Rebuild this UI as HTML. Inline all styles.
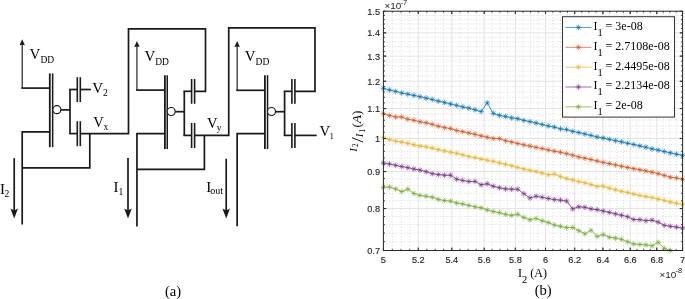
<!DOCTYPE html>
<html><head><meta charset="utf-8"><style>
html,body{margin:0;padding:0;background:#fff;}
body{width:685px;height:299px;overflow:hidden;}
svg{display:block;will-change:transform;}
</style></head><body>
<svg width="685" height="299" viewBox="0 0 685 299">
<line x1="22.20" y1="88.10" x2="22.20" y2="43.20" stroke="#1a1a1a" stroke-width="1.15"/>
<path d="M22.20,39.20 L19.50,45.20 L22.20,44.70 L24.90,45.20 Z" fill="#1a1a1a"/>
<line x1="21.35" y1="88.10" x2="49.80" y2="88.10" stroke="#1a1a1a" stroke-width="1.7"/>
<line x1="49.80" y1="73.40" x2="49.80" y2="147.20" stroke="#1a1a1a" stroke-width="1.8"/>
<line x1="52.65" y1="73.40" x2="52.65" y2="147.20" stroke="#1a1a1a" stroke-width="1.5"/>
<circle cx="56.90" cy="109.70" r="4.0" fill="#fff" stroke="#1a1a1a" stroke-width="1.2"/>
<line x1="60.90" y1="109.90" x2="70.00" y2="109.90" stroke="#1a1a1a" stroke-width="1.7"/>
<line x1="70.00" y1="89.50" x2="70.00" y2="134.00" stroke="#1a1a1a" stroke-width="1.7"/>
<line x1="69.15" y1="89.50" x2="77.30" y2="89.50" stroke="#1a1a1a" stroke-width="1.7"/>
<line x1="77.30" y1="77.20" x2="77.30" y2="102.00" stroke="#1a1a1a" stroke-width="1.6"/>
<line x1="80.30" y1="77.20" x2="80.30" y2="102.00" stroke="#1a1a1a" stroke-width="1.6"/>
<line x1="69.15" y1="133.60" x2="77.30" y2="133.60" stroke="#1a1a1a" stroke-width="1.7"/>
<line x1="77.30" y1="121.20" x2="77.30" y2="146.20" stroke="#1a1a1a" stroke-width="1.6"/>
<line x1="80.30" y1="121.20" x2="80.30" y2="146.20" stroke="#1a1a1a" stroke-width="1.6"/>
<polyline points="49.80,131.80 22.20,131.80 22.20,224.40" fill="none" stroke="#1a1a1a" stroke-width="1.7" stroke-linejoin="miter"/>
<line x1="14.20" y1="158.20" x2="14.20" y2="212.00" stroke="#1a1a1a" stroke-width="1.7"/>
<path d="M14.20,218.40 L10.45,208.60 L14.20,210.40 L17.95,208.60 Z" fill="#1a1a1a"/>
<line x1="136.95" y1="90.10" x2="136.95" y2="45.00" stroke="#1a1a1a" stroke-width="1.15"/>
<path d="M136.95,41.00 L134.25,47.00 L136.95,46.50 L139.65,47.00 Z" fill="#1a1a1a"/>
<line x1="136.10" y1="90.10" x2="164.90" y2="90.10" stroke="#1a1a1a" stroke-width="1.7"/>
<line x1="164.90" y1="75.20" x2="164.90" y2="149.00" stroke="#1a1a1a" stroke-width="1.8"/>
<line x1="167.25" y1="75.20" x2="167.25" y2="149.00" stroke="#1a1a1a" stroke-width="1.5"/>
<circle cx="171.20" cy="111.50" r="4.0" fill="#fff" stroke="#1a1a1a" stroke-width="1.2"/>
<line x1="175.20" y1="111.70" x2="184.30" y2="111.70" stroke="#1a1a1a" stroke-width="1.7"/>
<line x1="184.30" y1="91.30" x2="184.30" y2="135.80" stroke="#1a1a1a" stroke-width="1.7"/>
<line x1="183.45" y1="91.30" x2="191.60" y2="91.30" stroke="#1a1a1a" stroke-width="1.7"/>
<line x1="191.60" y1="79.00" x2="191.60" y2="103.80" stroke="#1a1a1a" stroke-width="1.6"/>
<line x1="194.60" y1="79.00" x2="194.60" y2="103.80" stroke="#1a1a1a" stroke-width="1.6"/>
<line x1="183.45" y1="135.40" x2="191.60" y2="135.40" stroke="#1a1a1a" stroke-width="1.7"/>
<line x1="191.60" y1="123.00" x2="191.60" y2="148.00" stroke="#1a1a1a" stroke-width="1.6"/>
<line x1="194.60" y1="123.00" x2="194.60" y2="148.00" stroke="#1a1a1a" stroke-width="1.6"/>
<polyline points="164.90,133.60 136.95,133.60 136.95,226.40" fill="none" stroke="#1a1a1a" stroke-width="1.7" stroke-linejoin="miter"/>
<line x1="128.00" y1="158.00" x2="128.00" y2="212.00" stroke="#1a1a1a" stroke-width="1.7"/>
<path d="M128.00,218.40 L124.25,208.60 L128.00,210.40 L131.75,208.60 Z" fill="#1a1a1a"/>
<line x1="237.15" y1="90.30" x2="237.15" y2="45.00" stroke="#1a1a1a" stroke-width="1.15"/>
<path d="M237.15,41.00 L234.45,47.00 L237.15,46.50 L239.85,47.00 Z" fill="#1a1a1a"/>
<line x1="236.30" y1="90.30" x2="264.90" y2="90.30" stroke="#1a1a1a" stroke-width="1.7"/>
<line x1="264.90" y1="75.20" x2="264.90" y2="149.00" stroke="#1a1a1a" stroke-width="1.8"/>
<line x1="267.55" y1="75.20" x2="267.55" y2="149.00" stroke="#1a1a1a" stroke-width="1.5"/>
<circle cx="271.50" cy="111.50" r="4.0" fill="#fff" stroke="#1a1a1a" stroke-width="1.2"/>
<line x1="275.50" y1="111.70" x2="284.60" y2="111.70" stroke="#1a1a1a" stroke-width="1.7"/>
<line x1="284.60" y1="91.30" x2="284.60" y2="135.80" stroke="#1a1a1a" stroke-width="1.7"/>
<line x1="283.75" y1="91.30" x2="291.90" y2="91.30" stroke="#1a1a1a" stroke-width="1.7"/>
<line x1="291.90" y1="79.00" x2="291.90" y2="103.80" stroke="#1a1a1a" stroke-width="1.6"/>
<line x1="294.90" y1="79.00" x2="294.90" y2="103.80" stroke="#1a1a1a" stroke-width="1.6"/>
<line x1="283.75" y1="135.40" x2="291.90" y2="135.40" stroke="#1a1a1a" stroke-width="1.7"/>
<line x1="291.90" y1="123.00" x2="291.90" y2="148.00" stroke="#1a1a1a" stroke-width="1.6"/>
<line x1="294.90" y1="123.00" x2="294.90" y2="148.00" stroke="#1a1a1a" stroke-width="1.6"/>
<polyline points="264.90,133.60 237.15,133.60 237.15,226.30" fill="none" stroke="#1a1a1a" stroke-width="1.7" stroke-linejoin="miter"/>
<line x1="226.20" y1="158.80" x2="226.20" y2="212.00" stroke="#1a1a1a" stroke-width="1.7"/>
<path d="M226.20,218.40 L222.45,208.60 L226.20,210.40 L229.95,208.60 Z" fill="#1a1a1a"/>
<line x1="80.30" y1="89.50" x2="90.80" y2="89.50" stroke="#1a1a1a" stroke-width="1.7"/>
<polyline points="80.30,133.60 128.50,133.60 128.50,28.80 205.50,28.80 205.50,91.30 194.60,91.30" fill="none" stroke="#1a1a1a" stroke-width="1.7" stroke-linejoin="miter"/>
<polyline points="89.80,133.60 89.80,167.80 22.20,167.80" fill="none" stroke="#1a1a1a" stroke-width="1.7" stroke-linejoin="miter"/>
<polyline points="194.60,135.40 228.75,135.40 228.75,27.90 315.00,27.90 315.00,91.30 294.90,91.30" fill="none" stroke="#1a1a1a" stroke-width="1.7" stroke-linejoin="miter"/>
<polyline points="204.40,135.40 204.40,169.30 136.95,169.30" fill="none" stroke="#1a1a1a" stroke-width="1.7" stroke-linejoin="miter"/>
<line x1="294.90" y1="135.40" x2="316.70" y2="135.40" stroke="#1a1a1a" stroke-width="1.7"/>
<text x="29.60" y="59.20" style="font-family:'Liberation Serif',serif;font-size:15px" fill="#000">V<tspan dx="0" dy="3.9" style="font-size:9.5px">DD</tspan></text>
<text x="144.40" y="61.10" style="font-family:'Liberation Serif',serif;font-size:15px" fill="#000">V<tspan dx="0" dy="3.6" style="font-size:9.5px">DD</tspan></text>
<text x="244.70" y="61.10" style="font-family:'Liberation Serif',serif;font-size:15px" fill="#000">V<tspan dx="0" dy="3.6" style="font-size:9.5px">DD</tspan></text>
<text x="92.20" y="93.00" style="font-family:'Liberation Serif',serif;font-size:15px" fill="#000">V<tspan dx="0" dy="2.6" style="font-size:9.6px">2</tspan></text>
<text x="93.20" y="126.60" style="font-family:'Liberation Serif',serif;font-size:14.6px" fill="#000">V<tspan dx="-0.3" dy="3.1" style="font-size:9.6px">x</tspan></text>
<text x="206.90" y="127.80" style="font-family:'Liberation Serif',serif;font-size:14.6px" fill="#000">V<tspan dx="-0.6" dy="3.2" style="font-size:9.4px">y</tspan></text>
<text x="319.40" y="135.80" style="font-family:'Liberation Serif',serif;font-size:14.8px" fill="#000">V<tspan dx="-0.5" dy="3.0" style="font-size:9.0px">1</tspan></text>
<text x="0.00" y="193.70" style="font-family:'Liberation Serif',serif;font-size:15px" fill="#000">I<tspan dx="-0.4" dy="2.8" style="font-size:9.6px">2</tspan></text>
<text x="113.40" y="192.20" style="font-family:'Liberation Serif',serif;font-size:15px" fill="#000">I<tspan dx="0.2" dy="2.8" style="font-size:9.6px">1</tspan></text>
<text x="206.20" y="191.60" style="font-family:'Liberation Serif',serif;font-size:15px" fill="#000">I<tspan dx="-1.0" dy="2.6" style="font-size:10px">out</tspan></text>
<text x="164.90" y="295.50" style="font-family:'Liberation Serif',serif;font-size:14.6px" text-anchor="start" fill="#000" >(a)</text>
<text x="534.70" y="295.40" style="font-family:'Liberation Serif',serif;font-size:14.6px" text-anchor="start" fill="#000" >(b)</text>
<rect x="383.4" y="11.2" width="299.20000000000005" height="239.3" fill="#fff"/>
<line x1="392.25" y1="11.20" x2="392.25" y2="250.50" stroke="#cccccc" stroke-width="0.7" stroke-dasharray="1,2"/>
<line x1="401.01" y1="11.20" x2="401.01" y2="250.50" stroke="#cccccc" stroke-width="0.7" stroke-dasharray="1,2"/>
<line x1="409.68" y1="11.20" x2="409.68" y2="250.50" stroke="#cccccc" stroke-width="0.7" stroke-dasharray="1,2"/>
<line x1="426.79" y1="11.20" x2="426.79" y2="250.50" stroke="#cccccc" stroke-width="0.7" stroke-dasharray="1,2"/>
<line x1="435.21" y1="11.20" x2="435.21" y2="250.50" stroke="#cccccc" stroke-width="0.7" stroke-dasharray="1,2"/>
<line x1="443.56" y1="11.20" x2="443.56" y2="250.50" stroke="#cccccc" stroke-width="0.7" stroke-dasharray="1,2"/>
<line x1="460.03" y1="11.20" x2="460.03" y2="250.50" stroke="#cccccc" stroke-width="0.7" stroke-dasharray="1,2"/>
<line x1="468.15" y1="11.20" x2="468.15" y2="250.50" stroke="#cccccc" stroke-width="0.7" stroke-dasharray="1,2"/>
<line x1="476.20" y1="11.20" x2="476.20" y2="250.50" stroke="#cccccc" stroke-width="0.7" stroke-dasharray="1,2"/>
<line x1="492.08" y1="11.20" x2="492.08" y2="250.50" stroke="#cccccc" stroke-width="0.7" stroke-dasharray="1,2"/>
<line x1="499.91" y1="11.20" x2="499.91" y2="250.50" stroke="#cccccc" stroke-width="0.7" stroke-dasharray="1,2"/>
<line x1="507.68" y1="11.20" x2="507.68" y2="250.50" stroke="#cccccc" stroke-width="0.7" stroke-dasharray="1,2"/>
<line x1="523.01" y1="11.20" x2="523.01" y2="250.50" stroke="#cccccc" stroke-width="0.7" stroke-dasharray="1,2"/>
<line x1="530.58" y1="11.20" x2="530.58" y2="250.50" stroke="#cccccc" stroke-width="0.7" stroke-dasharray="1,2"/>
<line x1="538.08" y1="11.20" x2="538.08" y2="250.50" stroke="#cccccc" stroke-width="0.7" stroke-dasharray="1,2"/>
<line x1="552.90" y1="11.20" x2="552.90" y2="250.50" stroke="#cccccc" stroke-width="0.7" stroke-dasharray="1,2"/>
<line x1="560.22" y1="11.20" x2="560.22" y2="250.50" stroke="#cccccc" stroke-width="0.7" stroke-dasharray="1,2"/>
<line x1="567.48" y1="11.20" x2="567.48" y2="250.50" stroke="#cccccc" stroke-width="0.7" stroke-dasharray="1,2"/>
<line x1="581.83" y1="11.20" x2="581.83" y2="250.50" stroke="#cccccc" stroke-width="0.7" stroke-dasharray="1,2"/>
<line x1="588.91" y1="11.20" x2="588.91" y2="250.50" stroke="#cccccc" stroke-width="0.7" stroke-dasharray="1,2"/>
<line x1="595.94" y1="11.20" x2="595.94" y2="250.50" stroke="#cccccc" stroke-width="0.7" stroke-dasharray="1,2"/>
<line x1="609.83" y1="11.20" x2="609.83" y2="250.50" stroke="#cccccc" stroke-width="0.7" stroke-dasharray="1,2"/>
<line x1="616.70" y1="11.20" x2="616.70" y2="250.50" stroke="#cccccc" stroke-width="0.7" stroke-dasharray="1,2"/>
<line x1="623.52" y1="11.20" x2="623.52" y2="250.50" stroke="#cccccc" stroke-width="0.7" stroke-dasharray="1,2"/>
<line x1="636.99" y1="11.20" x2="636.99" y2="250.50" stroke="#cccccc" stroke-width="0.7" stroke-dasharray="1,2"/>
<line x1="643.65" y1="11.20" x2="643.65" y2="250.50" stroke="#cccccc" stroke-width="0.7" stroke-dasharray="1,2"/>
<line x1="650.26" y1="11.20" x2="650.26" y2="250.50" stroke="#cccccc" stroke-width="0.7" stroke-dasharray="1,2"/>
<line x1="663.34" y1="11.20" x2="663.34" y2="250.50" stroke="#cccccc" stroke-width="0.7" stroke-dasharray="1,2"/>
<line x1="669.81" y1="11.20" x2="669.81" y2="250.50" stroke="#cccccc" stroke-width="0.7" stroke-dasharray="1,2"/>
<line x1="676.23" y1="11.20" x2="676.23" y2="250.50" stroke="#cccccc" stroke-width="0.7" stroke-dasharray="1,2"/>
<line x1="383.40" y1="241.65" x2="682.60" y2="241.65" stroke="#cccccc" stroke-width="0.7" stroke-dasharray="1,2"/>
<line x1="383.40" y1="233.05" x2="682.60" y2="233.05" stroke="#cccccc" stroke-width="0.7" stroke-dasharray="1,2"/>
<line x1="383.40" y1="224.68" x2="682.60" y2="224.68" stroke="#cccccc" stroke-width="0.7" stroke-dasharray="1,2"/>
<line x1="383.40" y1="216.52" x2="682.60" y2="216.52" stroke="#cccccc" stroke-width="0.7" stroke-dasharray="1,2"/>
<line x1="383.40" y1="200.82" x2="682.60" y2="200.82" stroke="#cccccc" stroke-width="0.7" stroke-dasharray="1,2"/>
<line x1="383.40" y1="193.25" x2="682.60" y2="193.25" stroke="#cccccc" stroke-width="0.7" stroke-dasharray="1,2"/>
<line x1="383.40" y1="185.87" x2="682.60" y2="185.87" stroke="#cccccc" stroke-width="0.7" stroke-dasharray="1,2"/>
<line x1="383.40" y1="178.65" x2="682.60" y2="178.65" stroke="#cccccc" stroke-width="0.7" stroke-dasharray="1,2"/>
<line x1="383.40" y1="164.69" x2="682.60" y2="164.69" stroke="#cccccc" stroke-width="0.7" stroke-dasharray="1,2"/>
<line x1="383.40" y1="157.94" x2="682.60" y2="157.94" stroke="#cccccc" stroke-width="0.7" stroke-dasharray="1,2"/>
<line x1="383.40" y1="151.33" x2="682.60" y2="151.33" stroke="#cccccc" stroke-width="0.7" stroke-dasharray="1,2"/>
<line x1="383.40" y1="144.85" x2="682.60" y2="144.85" stroke="#cccccc" stroke-width="0.7" stroke-dasharray="1,2"/>
<line x1="383.40" y1="132.29" x2="682.60" y2="132.29" stroke="#cccccc" stroke-width="0.7" stroke-dasharray="1,2"/>
<line x1="383.40" y1="126.19" x2="682.60" y2="126.19" stroke="#cccccc" stroke-width="0.7" stroke-dasharray="1,2"/>
<line x1="383.40" y1="120.21" x2="682.60" y2="120.21" stroke="#cccccc" stroke-width="0.7" stroke-dasharray="1,2"/>
<line x1="383.40" y1="114.35" x2="682.60" y2="114.35" stroke="#cccccc" stroke-width="0.7" stroke-dasharray="1,2"/>
<line x1="383.40" y1="102.93" x2="682.60" y2="102.93" stroke="#cccccc" stroke-width="0.7" stroke-dasharray="1,2"/>
<line x1="383.40" y1="97.37" x2="682.60" y2="97.37" stroke="#cccccc" stroke-width="0.7" stroke-dasharray="1,2"/>
<line x1="383.40" y1="91.91" x2="682.60" y2="91.91" stroke="#cccccc" stroke-width="0.7" stroke-dasharray="1,2"/>
<line x1="383.40" y1="86.54" x2="682.60" y2="86.54" stroke="#cccccc" stroke-width="0.7" stroke-dasharray="1,2"/>
<line x1="383.40" y1="76.07" x2="682.60" y2="76.07" stroke="#cccccc" stroke-width="0.7" stroke-dasharray="1,2"/>
<line x1="383.40" y1="70.97" x2="682.60" y2="70.97" stroke="#cccccc" stroke-width="0.7" stroke-dasharray="1,2"/>
<line x1="383.40" y1="65.94" x2="682.60" y2="65.94" stroke="#cccccc" stroke-width="0.7" stroke-dasharray="1,2"/>
<line x1="383.40" y1="61.00" x2="682.60" y2="61.00" stroke="#cccccc" stroke-width="0.7" stroke-dasharray="1,2"/>
<line x1="383.40" y1="51.34" x2="682.60" y2="51.34" stroke="#cccccc" stroke-width="0.7" stroke-dasharray="1,2"/>
<line x1="383.40" y1="46.62" x2="682.60" y2="46.62" stroke="#cccccc" stroke-width="0.7" stroke-dasharray="1,2"/>
<line x1="383.40" y1="41.96" x2="682.60" y2="41.96" stroke="#cccccc" stroke-width="0.7" stroke-dasharray="1,2"/>
<line x1="383.40" y1="37.38" x2="682.60" y2="37.38" stroke="#cccccc" stroke-width="0.7" stroke-dasharray="1,2"/>
<line x1="383.40" y1="28.41" x2="682.60" y2="28.41" stroke="#cccccc" stroke-width="0.7" stroke-dasharray="1,2"/>
<line x1="383.40" y1="24.02" x2="682.60" y2="24.02" stroke="#cccccc" stroke-width="0.7" stroke-dasharray="1,2"/>
<line x1="383.40" y1="19.69" x2="682.60" y2="19.69" stroke="#cccccc" stroke-width="0.7" stroke-dasharray="1,2"/>
<line x1="383.40" y1="15.41" x2="682.60" y2="15.41" stroke="#cccccc" stroke-width="0.7" stroke-dasharray="1,2"/>
<line x1="418.28" y1="11.20" x2="418.28" y2="250.50" stroke="#e3e3e3" stroke-width="1"/>
<line x1="451.84" y1="11.20" x2="451.84" y2="250.50" stroke="#e3e3e3" stroke-width="1"/>
<line x1="484.17" y1="11.20" x2="484.17" y2="250.50" stroke="#e3e3e3" stroke-width="1"/>
<line x1="515.38" y1="11.20" x2="515.38" y2="250.50" stroke="#e3e3e3" stroke-width="1"/>
<line x1="545.53" y1="11.20" x2="545.53" y2="250.50" stroke="#e3e3e3" stroke-width="1"/>
<line x1="574.68" y1="11.20" x2="574.68" y2="250.50" stroke="#e3e3e3" stroke-width="1"/>
<line x1="602.91" y1="11.20" x2="602.91" y2="250.50" stroke="#e3e3e3" stroke-width="1"/>
<line x1="630.28" y1="11.20" x2="630.28" y2="250.50" stroke="#e3e3e3" stroke-width="1"/>
<line x1="656.82" y1="11.20" x2="656.82" y2="250.50" stroke="#e3e3e3" stroke-width="1"/>
<line x1="383.40" y1="208.57" x2="682.60" y2="208.57" stroke="#e3e3e3" stroke-width="1"/>
<line x1="383.40" y1="171.59" x2="682.60" y2="171.59" stroke="#e3e3e3" stroke-width="1"/>
<line x1="383.40" y1="138.51" x2="682.60" y2="138.51" stroke="#e3e3e3" stroke-width="1"/>
<line x1="383.40" y1="108.58" x2="682.60" y2="108.58" stroke="#e3e3e3" stroke-width="1"/>
<line x1="383.40" y1="81.26" x2="682.60" y2="81.26" stroke="#e3e3e3" stroke-width="1"/>
<line x1="383.40" y1="56.13" x2="682.60" y2="56.13" stroke="#e3e3e3" stroke-width="1"/>
<line x1="383.40" y1="32.86" x2="682.60" y2="32.86" stroke="#e3e3e3" stroke-width="1"/>
<clipPath id="axclip"><rect x="383.4" y="11.2" width="299.20000000000005" height="239.3"/></clipPath>
<polyline points="383.40,88.30 389.51,90.00 395.61,91.40 401.72,93.00 407.82,94.10 413.93,95.40 420.04,96.70 426.14,98.10 432.25,99.50 438.36,101.10 444.46,102.50 450.57,104.00 456.67,105.40 462.78,106.90 468.89,108.10 474.99,109.80 481.10,111.60 487.20,102.80 493.31,113.50 499.42,115.30 505.52,116.50 511.63,117.90 517.73,118.70 523.84,120.40 529.95,121.60 536.05,123.00 542.16,124.50 548.27,126.00 554.37,127.10 560.48,128.90 566.58,129.60 572.69,131.30 578.80,132.60 584.90,134.00 591.01,135.40 597.11,137.00 603.22,138.00 609.33,139.30 615.43,140.70 621.54,141.90 627.64,143.30 633.75,144.50 639.86,145.90 645.96,147.20 652.07,148.90 658.18,150.10 664.28,151.50 670.39,152.90 676.49,154.20 682.60,155.40" fill="none" stroke="#0072BD" stroke-width="0.8" clip-path="url(#axclip)"/>
<path d="M380.60,88.30H386.20M383.40,85.50V91.10M381.42,86.32L385.38,90.28M381.42,90.28L385.38,86.32" stroke="#0072BD" stroke-width="0.65" fill="none"/>
<path d="M386.71,90.00H392.31M389.51,87.20V92.80M387.53,88.02L391.49,91.98M387.53,91.98L391.49,88.02" stroke="#0072BD" stroke-width="0.65" fill="none"/>
<path d="M392.81,91.40H398.41M395.61,88.60V94.20M393.63,89.42L397.59,93.38M393.63,93.38L397.59,89.42" stroke="#0072BD" stroke-width="0.65" fill="none"/>
<path d="M398.92,93.00H404.52M401.72,90.20V95.80M399.74,91.02L403.70,94.98M399.74,94.98L403.70,91.02" stroke="#0072BD" stroke-width="0.65" fill="none"/>
<path d="M405.02,94.10H410.62M407.82,91.30V96.90M405.84,92.12L409.80,96.08M405.84,96.08L409.80,92.12" stroke="#0072BD" stroke-width="0.65" fill="none"/>
<path d="M411.13,95.40H416.73M413.93,92.60V98.20M411.95,93.42L415.91,97.38M411.95,97.38L415.91,93.42" stroke="#0072BD" stroke-width="0.65" fill="none"/>
<path d="M417.24,96.70H422.84M420.04,93.90V99.50M418.06,94.72L422.02,98.68M418.06,98.68L422.02,94.72" stroke="#0072BD" stroke-width="0.65" fill="none"/>
<path d="M423.34,98.10H428.94M426.14,95.30V100.90M424.16,96.12L428.12,100.08M424.16,100.08L428.12,96.12" stroke="#0072BD" stroke-width="0.65" fill="none"/>
<path d="M429.45,99.50H435.05M432.25,96.70V102.30M430.27,97.52L434.23,101.48M430.27,101.48L434.23,97.52" stroke="#0072BD" stroke-width="0.65" fill="none"/>
<path d="M435.56,101.10H441.16M438.36,98.30V103.90M436.38,99.12L440.33,103.08M436.38,103.08L440.33,99.12" stroke="#0072BD" stroke-width="0.65" fill="none"/>
<path d="M441.66,102.50H447.26M444.46,99.70V105.30M442.48,100.52L446.44,104.48M442.48,104.48L446.44,100.52" stroke="#0072BD" stroke-width="0.65" fill="none"/>
<path d="M447.77,104.00H453.37M450.57,101.20V106.80M448.59,102.02L452.55,105.98M448.59,105.98L452.55,102.02" stroke="#0072BD" stroke-width="0.65" fill="none"/>
<path d="M453.87,105.40H459.47M456.67,102.60V108.20M454.69,103.42L458.65,107.38M454.69,107.38L458.65,103.42" stroke="#0072BD" stroke-width="0.65" fill="none"/>
<path d="M459.98,106.90H465.58M462.78,104.10V109.70M460.80,104.92L464.76,108.88M460.80,108.88L464.76,104.92" stroke="#0072BD" stroke-width="0.65" fill="none"/>
<path d="M466.09,108.10H471.69M468.89,105.30V110.90M466.91,106.12L470.87,110.08M466.91,110.08L470.87,106.12" stroke="#0072BD" stroke-width="0.65" fill="none"/>
<path d="M472.19,109.80H477.79M474.99,107.00V112.60M473.01,107.82L476.97,111.78M473.01,111.78L476.97,107.82" stroke="#0072BD" stroke-width="0.65" fill="none"/>
<path d="M478.30,111.60H483.90M481.10,108.80V114.40M479.12,109.62L483.08,113.58M479.12,113.58L483.08,109.62" stroke="#0072BD" stroke-width="0.65" fill="none"/>
<path d="M484.40,102.80H490.00M487.20,100.00V105.60M485.22,100.82L489.18,104.78M485.22,104.78L489.18,100.82" stroke="#0072BD" stroke-width="0.65" fill="none"/>
<path d="M490.51,113.50H496.11M493.31,110.70V116.30M491.33,111.52L495.29,115.48M491.33,115.48L495.29,111.52" stroke="#0072BD" stroke-width="0.65" fill="none"/>
<path d="M496.62,115.30H502.22M499.42,112.50V118.10M497.44,113.32L501.40,117.28M497.44,117.28L501.40,113.32" stroke="#0072BD" stroke-width="0.65" fill="none"/>
<path d="M502.72,116.50H508.32M505.52,113.70V119.30M503.54,114.52L507.50,118.48M503.54,118.48L507.50,114.52" stroke="#0072BD" stroke-width="0.65" fill="none"/>
<path d="M508.83,117.90H514.43M511.63,115.10V120.70M509.65,115.92L513.61,119.88M509.65,119.88L513.61,115.92" stroke="#0072BD" stroke-width="0.65" fill="none"/>
<path d="M514.93,118.70H520.53M517.73,115.90V121.50M515.75,116.72L519.71,120.68M515.75,120.68L519.71,116.72" stroke="#0072BD" stroke-width="0.65" fill="none"/>
<path d="M521.04,120.40H526.64M523.84,117.60V123.20M521.86,118.42L525.82,122.38M521.86,122.38L525.82,118.42" stroke="#0072BD" stroke-width="0.65" fill="none"/>
<path d="M527.15,121.60H532.75M529.95,118.80V124.40M527.97,119.62L531.93,123.58M527.97,123.58L531.93,119.62" stroke="#0072BD" stroke-width="0.65" fill="none"/>
<path d="M533.25,123.00H538.85M536.05,120.20V125.80M534.07,121.02L538.03,124.98M534.07,124.98L538.03,121.02" stroke="#0072BD" stroke-width="0.65" fill="none"/>
<path d="M539.36,124.50H544.96M542.16,121.70V127.30M540.18,122.52L544.14,126.48M540.18,126.48L544.14,122.52" stroke="#0072BD" stroke-width="0.65" fill="none"/>
<path d="M545.47,126.00H551.07M548.27,123.20V128.80M546.29,124.02L550.25,127.98M546.29,127.98L550.25,124.02" stroke="#0072BD" stroke-width="0.65" fill="none"/>
<path d="M551.57,127.10H557.17M554.37,124.30V129.90M552.39,125.12L556.35,129.08M552.39,129.08L556.35,125.12" stroke="#0072BD" stroke-width="0.65" fill="none"/>
<path d="M557.68,128.90H563.28M560.48,126.10V131.70M558.50,126.92L562.46,130.88M558.50,130.88L562.46,126.92" stroke="#0072BD" stroke-width="0.65" fill="none"/>
<path d="M563.78,129.60H569.38M566.58,126.80V132.40M564.60,127.62L568.56,131.58M564.60,131.58L568.56,127.62" stroke="#0072BD" stroke-width="0.65" fill="none"/>
<path d="M569.89,131.30H575.49M572.69,128.50V134.10M570.71,129.32L574.67,133.28M570.71,133.28L574.67,129.32" stroke="#0072BD" stroke-width="0.65" fill="none"/>
<path d="M576.00,132.60H581.60M578.80,129.80V135.40M576.82,130.62L580.78,134.58M576.82,134.58L580.78,130.62" stroke="#0072BD" stroke-width="0.65" fill="none"/>
<path d="M582.10,134.00H587.70M584.90,131.20V136.80M582.92,132.02L586.88,135.98M582.92,135.98L586.88,132.02" stroke="#0072BD" stroke-width="0.65" fill="none"/>
<path d="M588.21,135.40H593.81M591.01,132.60V138.20M589.03,133.42L592.99,137.38M589.03,137.38L592.99,133.42" stroke="#0072BD" stroke-width="0.65" fill="none"/>
<path d="M594.31,137.00H599.91M597.11,134.20V139.80M595.13,135.02L599.09,138.98M595.13,138.98L599.09,135.02" stroke="#0072BD" stroke-width="0.65" fill="none"/>
<path d="M600.42,138.00H606.02M603.22,135.20V140.80M601.24,136.02L605.20,139.98M601.24,139.98L605.20,136.02" stroke="#0072BD" stroke-width="0.65" fill="none"/>
<path d="M606.53,139.30H612.13M609.33,136.50V142.10M607.35,137.32L611.31,141.28M607.35,141.28L611.31,137.32" stroke="#0072BD" stroke-width="0.65" fill="none"/>
<path d="M612.63,140.70H618.23M615.43,137.90V143.50M613.45,138.72L617.41,142.68M613.45,142.68L617.41,138.72" stroke="#0072BD" stroke-width="0.65" fill="none"/>
<path d="M618.74,141.90H624.34M621.54,139.10V144.70M619.56,139.92L623.52,143.88M619.56,143.88L623.52,139.92" stroke="#0072BD" stroke-width="0.65" fill="none"/>
<path d="M624.84,143.30H630.44M627.64,140.50V146.10M625.67,141.32L629.62,145.28M625.67,145.28L629.62,141.32" stroke="#0072BD" stroke-width="0.65" fill="none"/>
<path d="M630.95,144.50H636.55M633.75,141.70V147.30M631.77,142.52L635.73,146.48M631.77,146.48L635.73,142.52" stroke="#0072BD" stroke-width="0.65" fill="none"/>
<path d="M637.06,145.90H642.66M639.86,143.10V148.70M637.88,143.92L641.84,147.88M637.88,147.88L641.84,143.92" stroke="#0072BD" stroke-width="0.65" fill="none"/>
<path d="M643.16,147.20H648.76M645.96,144.40V150.00M643.98,145.22L647.94,149.18M643.98,149.18L647.94,145.22" stroke="#0072BD" stroke-width="0.65" fill="none"/>
<path d="M649.27,148.90H654.87M652.07,146.10V151.70M650.09,146.92L654.05,150.88M650.09,150.88L654.05,146.92" stroke="#0072BD" stroke-width="0.65" fill="none"/>
<path d="M655.38,150.10H660.98M658.18,147.30V152.90M656.20,148.12L660.16,152.08M656.20,152.08L660.16,148.12" stroke="#0072BD" stroke-width="0.65" fill="none"/>
<path d="M661.48,151.50H667.08M664.28,148.70V154.30M662.30,149.52L666.26,153.48M662.30,153.48L666.26,149.52" stroke="#0072BD" stroke-width="0.65" fill="none"/>
<path d="M667.59,152.90H673.19M670.39,150.10V155.70M668.41,150.92L672.37,154.88M668.41,154.88L672.37,150.92" stroke="#0072BD" stroke-width="0.65" fill="none"/>
<path d="M673.69,154.20H679.29M676.49,151.40V157.00M674.51,152.22L678.47,156.18M674.51,156.18L678.47,152.22" stroke="#0072BD" stroke-width="0.65" fill="none"/>
<path d="M679.80,155.40H685.40M682.60,152.60V158.20M680.62,153.42L684.58,157.38M680.62,157.38L684.58,153.42" stroke="#0072BD" stroke-width="0.65" fill="none"/>
<polyline points="383.40,113.50 389.51,115.50 395.61,117.00 401.72,117.00 407.82,119.20 413.93,120.30 420.04,121.80 426.14,122.80 432.25,124.30 438.36,126.20 444.46,127.60 450.57,128.60 456.67,130.50 462.78,131.70 468.89,133.00 474.99,134.30 481.10,135.90 487.20,137.20 493.31,138.40 499.42,138.60 505.52,140.80 511.63,142.00 517.73,143.50 523.84,144.90 529.95,146.00 536.05,147.40 542.16,148.60 548.27,150.00 554.37,151.20 560.48,152.20 566.58,153.70 572.69,155.20 578.80,157.00 584.90,158.20 591.01,159.50 597.11,161.00 603.22,162.40 609.33,163.60 615.43,165.00 621.54,166.20 627.64,167.50 633.75,168.70 639.86,169.80 645.96,171.00 652.07,172.20 658.18,173.70 664.28,175.40 670.39,177.20 676.49,178.00 682.60,179.40" fill="none" stroke="#D95319" stroke-width="0.8" clip-path="url(#axclip)"/>
<path d="M380.60,113.50H386.20M383.40,110.70V116.30M381.42,111.52L385.38,115.48M381.42,115.48L385.38,111.52" stroke="#D95319" stroke-width="0.65" fill="none"/>
<path d="M386.71,115.50H392.31M389.51,112.70V118.30M387.53,113.52L391.49,117.48M387.53,117.48L391.49,113.52" stroke="#D95319" stroke-width="0.65" fill="none"/>
<path d="M392.81,117.00H398.41M395.61,114.20V119.80M393.63,115.02L397.59,118.98M393.63,118.98L397.59,115.02" stroke="#D95319" stroke-width="0.65" fill="none"/>
<path d="M398.92,117.00H404.52M401.72,114.20V119.80M399.74,115.02L403.70,118.98M399.74,118.98L403.70,115.02" stroke="#D95319" stroke-width="0.65" fill="none"/>
<path d="M405.02,119.20H410.62M407.82,116.40V122.00M405.84,117.22L409.80,121.18M405.84,121.18L409.80,117.22" stroke="#D95319" stroke-width="0.65" fill="none"/>
<path d="M411.13,120.30H416.73M413.93,117.50V123.10M411.95,118.32L415.91,122.28M411.95,122.28L415.91,118.32" stroke="#D95319" stroke-width="0.65" fill="none"/>
<path d="M417.24,121.80H422.84M420.04,119.00V124.60M418.06,119.82L422.02,123.78M418.06,123.78L422.02,119.82" stroke="#D95319" stroke-width="0.65" fill="none"/>
<path d="M423.34,122.80H428.94M426.14,120.00V125.60M424.16,120.82L428.12,124.78M424.16,124.78L428.12,120.82" stroke="#D95319" stroke-width="0.65" fill="none"/>
<path d="M429.45,124.30H435.05M432.25,121.50V127.10M430.27,122.32L434.23,126.28M430.27,126.28L434.23,122.32" stroke="#D95319" stroke-width="0.65" fill="none"/>
<path d="M435.56,126.20H441.16M438.36,123.40V129.00M436.38,124.22L440.33,128.18M436.38,128.18L440.33,124.22" stroke="#D95319" stroke-width="0.65" fill="none"/>
<path d="M441.66,127.60H447.26M444.46,124.80V130.40M442.48,125.62L446.44,129.58M442.48,129.58L446.44,125.62" stroke="#D95319" stroke-width="0.65" fill="none"/>
<path d="M447.77,128.60H453.37M450.57,125.80V131.40M448.59,126.62L452.55,130.58M448.59,130.58L452.55,126.62" stroke="#D95319" stroke-width="0.65" fill="none"/>
<path d="M453.87,130.50H459.47M456.67,127.70V133.30M454.69,128.52L458.65,132.48M454.69,132.48L458.65,128.52" stroke="#D95319" stroke-width="0.65" fill="none"/>
<path d="M459.98,131.70H465.58M462.78,128.90V134.50M460.80,129.72L464.76,133.68M460.80,133.68L464.76,129.72" stroke="#D95319" stroke-width="0.65" fill="none"/>
<path d="M466.09,133.00H471.69M468.89,130.20V135.80M466.91,131.02L470.87,134.98M466.91,134.98L470.87,131.02" stroke="#D95319" stroke-width="0.65" fill="none"/>
<path d="M472.19,134.30H477.79M474.99,131.50V137.10M473.01,132.32L476.97,136.28M473.01,136.28L476.97,132.32" stroke="#D95319" stroke-width="0.65" fill="none"/>
<path d="M478.30,135.90H483.90M481.10,133.10V138.70M479.12,133.92L483.08,137.88M479.12,137.88L483.08,133.92" stroke="#D95319" stroke-width="0.65" fill="none"/>
<path d="M484.40,137.20H490.00M487.20,134.40V140.00M485.22,135.22L489.18,139.18M485.22,139.18L489.18,135.22" stroke="#D95319" stroke-width="0.65" fill="none"/>
<path d="M490.51,138.40H496.11M493.31,135.60V141.20M491.33,136.42L495.29,140.38M491.33,140.38L495.29,136.42" stroke="#D95319" stroke-width="0.65" fill="none"/>
<path d="M496.62,138.60H502.22M499.42,135.80V141.40M497.44,136.62L501.40,140.58M497.44,140.58L501.40,136.62" stroke="#D95319" stroke-width="0.65" fill="none"/>
<path d="M502.72,140.80H508.32M505.52,138.00V143.60M503.54,138.82L507.50,142.78M503.54,142.78L507.50,138.82" stroke="#D95319" stroke-width="0.65" fill="none"/>
<path d="M508.83,142.00H514.43M511.63,139.20V144.80M509.65,140.02L513.61,143.98M509.65,143.98L513.61,140.02" stroke="#D95319" stroke-width="0.65" fill="none"/>
<path d="M514.93,143.50H520.53M517.73,140.70V146.30M515.75,141.52L519.71,145.48M515.75,145.48L519.71,141.52" stroke="#D95319" stroke-width="0.65" fill="none"/>
<path d="M521.04,144.90H526.64M523.84,142.10V147.70M521.86,142.92L525.82,146.88M521.86,146.88L525.82,142.92" stroke="#D95319" stroke-width="0.65" fill="none"/>
<path d="M527.15,146.00H532.75M529.95,143.20V148.80M527.97,144.02L531.93,147.98M527.97,147.98L531.93,144.02" stroke="#D95319" stroke-width="0.65" fill="none"/>
<path d="M533.25,147.40H538.85M536.05,144.60V150.20M534.07,145.42L538.03,149.38M534.07,149.38L538.03,145.42" stroke="#D95319" stroke-width="0.65" fill="none"/>
<path d="M539.36,148.60H544.96M542.16,145.80V151.40M540.18,146.62L544.14,150.58M540.18,150.58L544.14,146.62" stroke="#D95319" stroke-width="0.65" fill="none"/>
<path d="M545.47,150.00H551.07M548.27,147.20V152.80M546.29,148.02L550.25,151.98M546.29,151.98L550.25,148.02" stroke="#D95319" stroke-width="0.65" fill="none"/>
<path d="M551.57,151.20H557.17M554.37,148.40V154.00M552.39,149.22L556.35,153.18M552.39,153.18L556.35,149.22" stroke="#D95319" stroke-width="0.65" fill="none"/>
<path d="M557.68,152.20H563.28M560.48,149.40V155.00M558.50,150.22L562.46,154.18M558.50,154.18L562.46,150.22" stroke="#D95319" stroke-width="0.65" fill="none"/>
<path d="M563.78,153.70H569.38M566.58,150.90V156.50M564.60,151.72L568.56,155.68M564.60,155.68L568.56,151.72" stroke="#D95319" stroke-width="0.65" fill="none"/>
<path d="M569.89,155.20H575.49M572.69,152.40V158.00M570.71,153.22L574.67,157.18M570.71,157.18L574.67,153.22" stroke="#D95319" stroke-width="0.65" fill="none"/>
<path d="M576.00,157.00H581.60M578.80,154.20V159.80M576.82,155.02L580.78,158.98M576.82,158.98L580.78,155.02" stroke="#D95319" stroke-width="0.65" fill="none"/>
<path d="M582.10,158.20H587.70M584.90,155.40V161.00M582.92,156.22L586.88,160.18M582.92,160.18L586.88,156.22" stroke="#D95319" stroke-width="0.65" fill="none"/>
<path d="M588.21,159.50H593.81M591.01,156.70V162.30M589.03,157.52L592.99,161.48M589.03,161.48L592.99,157.52" stroke="#D95319" stroke-width="0.65" fill="none"/>
<path d="M594.31,161.00H599.91M597.11,158.20V163.80M595.13,159.02L599.09,162.98M595.13,162.98L599.09,159.02" stroke="#D95319" stroke-width="0.65" fill="none"/>
<path d="M600.42,162.40H606.02M603.22,159.60V165.20M601.24,160.42L605.20,164.38M601.24,164.38L605.20,160.42" stroke="#D95319" stroke-width="0.65" fill="none"/>
<path d="M606.53,163.60H612.13M609.33,160.80V166.40M607.35,161.62L611.31,165.58M607.35,165.58L611.31,161.62" stroke="#D95319" stroke-width="0.65" fill="none"/>
<path d="M612.63,165.00H618.23M615.43,162.20V167.80M613.45,163.02L617.41,166.98M613.45,166.98L617.41,163.02" stroke="#D95319" stroke-width="0.65" fill="none"/>
<path d="M618.74,166.20H624.34M621.54,163.40V169.00M619.56,164.22L623.52,168.18M619.56,168.18L623.52,164.22" stroke="#D95319" stroke-width="0.65" fill="none"/>
<path d="M624.84,167.50H630.44M627.64,164.70V170.30M625.67,165.52L629.62,169.48M625.67,169.48L629.62,165.52" stroke="#D95319" stroke-width="0.65" fill="none"/>
<path d="M630.95,168.70H636.55M633.75,165.90V171.50M631.77,166.72L635.73,170.68M631.77,170.68L635.73,166.72" stroke="#D95319" stroke-width="0.65" fill="none"/>
<path d="M637.06,169.80H642.66M639.86,167.00V172.60M637.88,167.82L641.84,171.78M637.88,171.78L641.84,167.82" stroke="#D95319" stroke-width="0.65" fill="none"/>
<path d="M643.16,171.00H648.76M645.96,168.20V173.80M643.98,169.02L647.94,172.98M643.98,172.98L647.94,169.02" stroke="#D95319" stroke-width="0.65" fill="none"/>
<path d="M649.27,172.20H654.87M652.07,169.40V175.00M650.09,170.22L654.05,174.18M650.09,174.18L654.05,170.22" stroke="#D95319" stroke-width="0.65" fill="none"/>
<path d="M655.38,173.70H660.98M658.18,170.90V176.50M656.20,171.72L660.16,175.68M656.20,175.68L660.16,171.72" stroke="#D95319" stroke-width="0.65" fill="none"/>
<path d="M661.48,175.40H667.08M664.28,172.60V178.20M662.30,173.42L666.26,177.38M662.30,177.38L666.26,173.42" stroke="#D95319" stroke-width="0.65" fill="none"/>
<path d="M667.59,177.20H673.19M670.39,174.40V180.00M668.41,175.22L672.37,179.18M668.41,179.18L672.37,175.22" stroke="#D95319" stroke-width="0.65" fill="none"/>
<path d="M673.69,178.00H679.29M676.49,175.20V180.80M674.51,176.02L678.47,179.98M674.51,179.98L678.47,176.02" stroke="#D95319" stroke-width="0.65" fill="none"/>
<path d="M679.80,179.40H685.40M682.60,176.60V182.20M680.62,177.42L684.58,181.38M680.62,181.38L684.58,177.42" stroke="#D95319" stroke-width="0.65" fill="none"/>
<polyline points="383.40,137.70 389.51,139.60 395.61,141.20 401.72,142.00 407.82,143.30 413.93,144.80 420.04,146.00 426.14,146.90 432.25,148.10 438.36,149.60 444.46,150.90 450.57,152.20 456.67,153.30 462.78,154.90 468.89,156.50 474.99,157.60 481.10,159.00 487.20,160.20 493.31,161.40 499.42,162.80 505.52,164.30 511.63,165.80 517.73,167.50 523.84,169.00 529.95,170.40 536.05,171.60 542.16,173.10 548.27,174.80 554.37,174.10 560.48,176.60 566.58,178.60 572.69,180.00 578.80,181.60 584.90,182.90 591.01,184.50 597.11,186.40 603.22,186.20 609.33,188.20 615.43,189.80 621.54,191.30 627.64,192.50 633.75,194.00 639.86,195.50 645.96,196.60 652.07,197.60 658.18,199.00 664.28,200.40 670.39,202.00 676.49,203.30 682.60,204.40" fill="none" stroke="#EDB120" stroke-width="0.8" clip-path="url(#axclip)"/>
<path d="M380.60,137.70H386.20M383.40,134.90V140.50M381.42,135.72L385.38,139.68M381.42,139.68L385.38,135.72" stroke="#EDB120" stroke-width="0.65" fill="none"/>
<path d="M386.71,139.60H392.31M389.51,136.80V142.40M387.53,137.62L391.49,141.58M387.53,141.58L391.49,137.62" stroke="#EDB120" stroke-width="0.65" fill="none"/>
<path d="M392.81,141.20H398.41M395.61,138.40V144.00M393.63,139.22L397.59,143.18M393.63,143.18L397.59,139.22" stroke="#EDB120" stroke-width="0.65" fill="none"/>
<path d="M398.92,142.00H404.52M401.72,139.20V144.80M399.74,140.02L403.70,143.98M399.74,143.98L403.70,140.02" stroke="#EDB120" stroke-width="0.65" fill="none"/>
<path d="M405.02,143.30H410.62M407.82,140.50V146.10M405.84,141.32L409.80,145.28M405.84,145.28L409.80,141.32" stroke="#EDB120" stroke-width="0.65" fill="none"/>
<path d="M411.13,144.80H416.73M413.93,142.00V147.60M411.95,142.82L415.91,146.78M411.95,146.78L415.91,142.82" stroke="#EDB120" stroke-width="0.65" fill="none"/>
<path d="M417.24,146.00H422.84M420.04,143.20V148.80M418.06,144.02L422.02,147.98M418.06,147.98L422.02,144.02" stroke="#EDB120" stroke-width="0.65" fill="none"/>
<path d="M423.34,146.90H428.94M426.14,144.10V149.70M424.16,144.92L428.12,148.88M424.16,148.88L428.12,144.92" stroke="#EDB120" stroke-width="0.65" fill="none"/>
<path d="M429.45,148.10H435.05M432.25,145.30V150.90M430.27,146.12L434.23,150.08M430.27,150.08L434.23,146.12" stroke="#EDB120" stroke-width="0.65" fill="none"/>
<path d="M435.56,149.60H441.16M438.36,146.80V152.40M436.38,147.62L440.33,151.58M436.38,151.58L440.33,147.62" stroke="#EDB120" stroke-width="0.65" fill="none"/>
<path d="M441.66,150.90H447.26M444.46,148.10V153.70M442.48,148.92L446.44,152.88M442.48,152.88L446.44,148.92" stroke="#EDB120" stroke-width="0.65" fill="none"/>
<path d="M447.77,152.20H453.37M450.57,149.40V155.00M448.59,150.22L452.55,154.18M448.59,154.18L452.55,150.22" stroke="#EDB120" stroke-width="0.65" fill="none"/>
<path d="M453.87,153.30H459.47M456.67,150.50V156.10M454.69,151.32L458.65,155.28M454.69,155.28L458.65,151.32" stroke="#EDB120" stroke-width="0.65" fill="none"/>
<path d="M459.98,154.90H465.58M462.78,152.10V157.70M460.80,152.92L464.76,156.88M460.80,156.88L464.76,152.92" stroke="#EDB120" stroke-width="0.65" fill="none"/>
<path d="M466.09,156.50H471.69M468.89,153.70V159.30M466.91,154.52L470.87,158.48M466.91,158.48L470.87,154.52" stroke="#EDB120" stroke-width="0.65" fill="none"/>
<path d="M472.19,157.60H477.79M474.99,154.80V160.40M473.01,155.62L476.97,159.58M473.01,159.58L476.97,155.62" stroke="#EDB120" stroke-width="0.65" fill="none"/>
<path d="M478.30,159.00H483.90M481.10,156.20V161.80M479.12,157.02L483.08,160.98M479.12,160.98L483.08,157.02" stroke="#EDB120" stroke-width="0.65" fill="none"/>
<path d="M484.40,160.20H490.00M487.20,157.40V163.00M485.22,158.22L489.18,162.18M485.22,162.18L489.18,158.22" stroke="#EDB120" stroke-width="0.65" fill="none"/>
<path d="M490.51,161.40H496.11M493.31,158.60V164.20M491.33,159.42L495.29,163.38M491.33,163.38L495.29,159.42" stroke="#EDB120" stroke-width="0.65" fill="none"/>
<path d="M496.62,162.80H502.22M499.42,160.00V165.60M497.44,160.82L501.40,164.78M497.44,164.78L501.40,160.82" stroke="#EDB120" stroke-width="0.65" fill="none"/>
<path d="M502.72,164.30H508.32M505.52,161.50V167.10M503.54,162.32L507.50,166.28M503.54,166.28L507.50,162.32" stroke="#EDB120" stroke-width="0.65" fill="none"/>
<path d="M508.83,165.80H514.43M511.63,163.00V168.60M509.65,163.82L513.61,167.78M509.65,167.78L513.61,163.82" stroke="#EDB120" stroke-width="0.65" fill="none"/>
<path d="M514.93,167.50H520.53M517.73,164.70V170.30M515.75,165.52L519.71,169.48M515.75,169.48L519.71,165.52" stroke="#EDB120" stroke-width="0.65" fill="none"/>
<path d="M521.04,169.00H526.64M523.84,166.20V171.80M521.86,167.02L525.82,170.98M521.86,170.98L525.82,167.02" stroke="#EDB120" stroke-width="0.65" fill="none"/>
<path d="M527.15,170.40H532.75M529.95,167.60V173.20M527.97,168.42L531.93,172.38M527.97,172.38L531.93,168.42" stroke="#EDB120" stroke-width="0.65" fill="none"/>
<path d="M533.25,171.60H538.85M536.05,168.80V174.40M534.07,169.62L538.03,173.58M534.07,173.58L538.03,169.62" stroke="#EDB120" stroke-width="0.65" fill="none"/>
<path d="M539.36,173.10H544.96M542.16,170.30V175.90M540.18,171.12L544.14,175.08M540.18,175.08L544.14,171.12" stroke="#EDB120" stroke-width="0.65" fill="none"/>
<path d="M545.47,174.80H551.07M548.27,172.00V177.60M546.29,172.82L550.25,176.78M546.29,176.78L550.25,172.82" stroke="#EDB120" stroke-width="0.65" fill="none"/>
<path d="M551.57,174.10H557.17M554.37,171.30V176.90M552.39,172.12L556.35,176.08M552.39,176.08L556.35,172.12" stroke="#EDB120" stroke-width="0.65" fill="none"/>
<path d="M557.68,176.60H563.28M560.48,173.80V179.40M558.50,174.62L562.46,178.58M558.50,178.58L562.46,174.62" stroke="#EDB120" stroke-width="0.65" fill="none"/>
<path d="M563.78,178.60H569.38M566.58,175.80V181.40M564.60,176.62L568.56,180.58M564.60,180.58L568.56,176.62" stroke="#EDB120" stroke-width="0.65" fill="none"/>
<path d="M569.89,180.00H575.49M572.69,177.20V182.80M570.71,178.02L574.67,181.98M570.71,181.98L574.67,178.02" stroke="#EDB120" stroke-width="0.65" fill="none"/>
<path d="M576.00,181.60H581.60M578.80,178.80V184.40M576.82,179.62L580.78,183.58M576.82,183.58L580.78,179.62" stroke="#EDB120" stroke-width="0.65" fill="none"/>
<path d="M582.10,182.90H587.70M584.90,180.10V185.70M582.92,180.92L586.88,184.88M582.92,184.88L586.88,180.92" stroke="#EDB120" stroke-width="0.65" fill="none"/>
<path d="M588.21,184.50H593.81M591.01,181.70V187.30M589.03,182.52L592.99,186.48M589.03,186.48L592.99,182.52" stroke="#EDB120" stroke-width="0.65" fill="none"/>
<path d="M594.31,186.40H599.91M597.11,183.60V189.20M595.13,184.42L599.09,188.38M595.13,188.38L599.09,184.42" stroke="#EDB120" stroke-width="0.65" fill="none"/>
<path d="M600.42,186.20H606.02M603.22,183.40V189.00M601.24,184.22L605.20,188.18M601.24,188.18L605.20,184.22" stroke="#EDB120" stroke-width="0.65" fill="none"/>
<path d="M606.53,188.20H612.13M609.33,185.40V191.00M607.35,186.22L611.31,190.18M607.35,190.18L611.31,186.22" stroke="#EDB120" stroke-width="0.65" fill="none"/>
<path d="M612.63,189.80H618.23M615.43,187.00V192.60M613.45,187.82L617.41,191.78M613.45,191.78L617.41,187.82" stroke="#EDB120" stroke-width="0.65" fill="none"/>
<path d="M618.74,191.30H624.34M621.54,188.50V194.10M619.56,189.32L623.52,193.28M619.56,193.28L623.52,189.32" stroke="#EDB120" stroke-width="0.65" fill="none"/>
<path d="M624.84,192.50H630.44M627.64,189.70V195.30M625.67,190.52L629.62,194.48M625.67,194.48L629.62,190.52" stroke="#EDB120" stroke-width="0.65" fill="none"/>
<path d="M630.95,194.00H636.55M633.75,191.20V196.80M631.77,192.02L635.73,195.98M631.77,195.98L635.73,192.02" stroke="#EDB120" stroke-width="0.65" fill="none"/>
<path d="M637.06,195.50H642.66M639.86,192.70V198.30M637.88,193.52L641.84,197.48M637.88,197.48L641.84,193.52" stroke="#EDB120" stroke-width="0.65" fill="none"/>
<path d="M643.16,196.60H648.76M645.96,193.80V199.40M643.98,194.62L647.94,198.58M643.98,198.58L647.94,194.62" stroke="#EDB120" stroke-width="0.65" fill="none"/>
<path d="M649.27,197.60H654.87M652.07,194.80V200.40M650.09,195.62L654.05,199.58M650.09,199.58L654.05,195.62" stroke="#EDB120" stroke-width="0.65" fill="none"/>
<path d="M655.38,199.00H660.98M658.18,196.20V201.80M656.20,197.02L660.16,200.98M656.20,200.98L660.16,197.02" stroke="#EDB120" stroke-width="0.65" fill="none"/>
<path d="M661.48,200.40H667.08M664.28,197.60V203.20M662.30,198.42L666.26,202.38M662.30,202.38L666.26,198.42" stroke="#EDB120" stroke-width="0.65" fill="none"/>
<path d="M667.59,202.00H673.19M670.39,199.20V204.80M668.41,200.02L672.37,203.98M668.41,203.98L672.37,200.02" stroke="#EDB120" stroke-width="0.65" fill="none"/>
<path d="M673.69,203.30H679.29M676.49,200.50V206.10M674.51,201.32L678.47,205.28M674.51,205.28L678.47,201.32" stroke="#EDB120" stroke-width="0.65" fill="none"/>
<path d="M679.80,204.40H685.40M682.60,201.60V207.20M680.62,202.42L684.58,206.38M680.62,206.38L684.58,202.42" stroke="#EDB120" stroke-width="0.65" fill="none"/>
<polyline points="383.40,162.90 389.51,164.00 395.61,165.30 401.72,166.60 407.82,167.70 413.93,169.00 420.04,170.10 426.14,171.70 432.25,173.70 438.36,174.60 444.46,175.20 450.57,175.20 456.67,179.20 462.78,180.50 468.89,181.50 474.99,181.40 481.10,184.80 487.20,183.80 493.31,186.20 499.42,187.80 505.52,188.90 511.63,189.20 517.73,189.20 523.84,193.70 529.95,198.00 536.05,196.20 542.16,197.30 548.27,198.50 554.37,199.60 560.48,200.10 566.58,201.00 572.69,208.90 578.80,206.80 584.90,207.30 591.01,208.90 597.11,209.70 603.22,211.00 609.33,212.40 615.43,213.90 621.54,215.20 627.64,216.80 633.75,219.50 639.86,219.70 645.96,220.70 652.07,220.10 658.18,222.10 664.28,225.30 670.39,226.30 676.49,227.10 682.60,228.10" fill="none" stroke="#7E2F8E" stroke-width="0.8" clip-path="url(#axclip)"/>
<path d="M380.60,162.90H386.20M383.40,160.10V165.70M381.42,160.92L385.38,164.88M381.42,164.88L385.38,160.92" stroke="#7E2F8E" stroke-width="0.65" fill="none"/>
<path d="M386.71,164.00H392.31M389.51,161.20V166.80M387.53,162.02L391.49,165.98M387.53,165.98L391.49,162.02" stroke="#7E2F8E" stroke-width="0.65" fill="none"/>
<path d="M392.81,165.30H398.41M395.61,162.50V168.10M393.63,163.32L397.59,167.28M393.63,167.28L397.59,163.32" stroke="#7E2F8E" stroke-width="0.65" fill="none"/>
<path d="M398.92,166.60H404.52M401.72,163.80V169.40M399.74,164.62L403.70,168.58M399.74,168.58L403.70,164.62" stroke="#7E2F8E" stroke-width="0.65" fill="none"/>
<path d="M405.02,167.70H410.62M407.82,164.90V170.50M405.84,165.72L409.80,169.68M405.84,169.68L409.80,165.72" stroke="#7E2F8E" stroke-width="0.65" fill="none"/>
<path d="M411.13,169.00H416.73M413.93,166.20V171.80M411.95,167.02L415.91,170.98M411.95,170.98L415.91,167.02" stroke="#7E2F8E" stroke-width="0.65" fill="none"/>
<path d="M417.24,170.10H422.84M420.04,167.30V172.90M418.06,168.12L422.02,172.08M418.06,172.08L422.02,168.12" stroke="#7E2F8E" stroke-width="0.65" fill="none"/>
<path d="M423.34,171.70H428.94M426.14,168.90V174.50M424.16,169.72L428.12,173.68M424.16,173.68L428.12,169.72" stroke="#7E2F8E" stroke-width="0.65" fill="none"/>
<path d="M429.45,173.70H435.05M432.25,170.90V176.50M430.27,171.72L434.23,175.68M430.27,175.68L434.23,171.72" stroke="#7E2F8E" stroke-width="0.65" fill="none"/>
<path d="M435.56,174.60H441.16M438.36,171.80V177.40M436.38,172.62L440.33,176.58M436.38,176.58L440.33,172.62" stroke="#7E2F8E" stroke-width="0.65" fill="none"/>
<path d="M441.66,175.20H447.26M444.46,172.40V178.00M442.48,173.22L446.44,177.18M442.48,177.18L446.44,173.22" stroke="#7E2F8E" stroke-width="0.65" fill="none"/>
<path d="M447.77,175.20H453.37M450.57,172.40V178.00M448.59,173.22L452.55,177.18M448.59,177.18L452.55,173.22" stroke="#7E2F8E" stroke-width="0.65" fill="none"/>
<path d="M453.87,179.20H459.47M456.67,176.40V182.00M454.69,177.22L458.65,181.18M454.69,181.18L458.65,177.22" stroke="#7E2F8E" stroke-width="0.65" fill="none"/>
<path d="M459.98,180.50H465.58M462.78,177.70V183.30M460.80,178.52L464.76,182.48M460.80,182.48L464.76,178.52" stroke="#7E2F8E" stroke-width="0.65" fill="none"/>
<path d="M466.09,181.50H471.69M468.89,178.70V184.30M466.91,179.52L470.87,183.48M466.91,183.48L470.87,179.52" stroke="#7E2F8E" stroke-width="0.65" fill="none"/>
<path d="M472.19,181.40H477.79M474.99,178.60V184.20M473.01,179.42L476.97,183.38M473.01,183.38L476.97,179.42" stroke="#7E2F8E" stroke-width="0.65" fill="none"/>
<path d="M478.30,184.80H483.90M481.10,182.00V187.60M479.12,182.82L483.08,186.78M479.12,186.78L483.08,182.82" stroke="#7E2F8E" stroke-width="0.65" fill="none"/>
<path d="M484.40,183.80H490.00M487.20,181.00V186.60M485.22,181.82L489.18,185.78M485.22,185.78L489.18,181.82" stroke="#7E2F8E" stroke-width="0.65" fill="none"/>
<path d="M490.51,186.20H496.11M493.31,183.40V189.00M491.33,184.22L495.29,188.18M491.33,188.18L495.29,184.22" stroke="#7E2F8E" stroke-width="0.65" fill="none"/>
<path d="M496.62,187.80H502.22M499.42,185.00V190.60M497.44,185.82L501.40,189.78M497.44,189.78L501.40,185.82" stroke="#7E2F8E" stroke-width="0.65" fill="none"/>
<path d="M502.72,188.90H508.32M505.52,186.10V191.70M503.54,186.92L507.50,190.88M503.54,190.88L507.50,186.92" stroke="#7E2F8E" stroke-width="0.65" fill="none"/>
<path d="M508.83,189.20H514.43M511.63,186.40V192.00M509.65,187.22L513.61,191.18M509.65,191.18L513.61,187.22" stroke="#7E2F8E" stroke-width="0.65" fill="none"/>
<path d="M514.93,189.20H520.53M517.73,186.40V192.00M515.75,187.22L519.71,191.18M515.75,191.18L519.71,187.22" stroke="#7E2F8E" stroke-width="0.65" fill="none"/>
<path d="M521.04,193.70H526.64M523.84,190.90V196.50M521.86,191.72L525.82,195.68M521.86,195.68L525.82,191.72" stroke="#7E2F8E" stroke-width="0.65" fill="none"/>
<path d="M527.15,198.00H532.75M529.95,195.20V200.80M527.97,196.02L531.93,199.98M527.97,199.98L531.93,196.02" stroke="#7E2F8E" stroke-width="0.65" fill="none"/>
<path d="M533.25,196.20H538.85M536.05,193.40V199.00M534.07,194.22L538.03,198.18M534.07,198.18L538.03,194.22" stroke="#7E2F8E" stroke-width="0.65" fill="none"/>
<path d="M539.36,197.30H544.96M542.16,194.50V200.10M540.18,195.32L544.14,199.28M540.18,199.28L544.14,195.32" stroke="#7E2F8E" stroke-width="0.65" fill="none"/>
<path d="M545.47,198.50H551.07M548.27,195.70V201.30M546.29,196.52L550.25,200.48M546.29,200.48L550.25,196.52" stroke="#7E2F8E" stroke-width="0.65" fill="none"/>
<path d="M551.57,199.60H557.17M554.37,196.80V202.40M552.39,197.62L556.35,201.58M552.39,201.58L556.35,197.62" stroke="#7E2F8E" stroke-width="0.65" fill="none"/>
<path d="M557.68,200.10H563.28M560.48,197.30V202.90M558.50,198.12L562.46,202.08M558.50,202.08L562.46,198.12" stroke="#7E2F8E" stroke-width="0.65" fill="none"/>
<path d="M563.78,201.00H569.38M566.58,198.20V203.80M564.60,199.02L568.56,202.98M564.60,202.98L568.56,199.02" stroke="#7E2F8E" stroke-width="0.65" fill="none"/>
<path d="M569.89,208.90H575.49M572.69,206.10V211.70M570.71,206.92L574.67,210.88M570.71,210.88L574.67,206.92" stroke="#7E2F8E" stroke-width="0.65" fill="none"/>
<path d="M576.00,206.80H581.60M578.80,204.00V209.60M576.82,204.82L580.78,208.78M576.82,208.78L580.78,204.82" stroke="#7E2F8E" stroke-width="0.65" fill="none"/>
<path d="M582.10,207.30H587.70M584.90,204.50V210.10M582.92,205.32L586.88,209.28M582.92,209.28L586.88,205.32" stroke="#7E2F8E" stroke-width="0.65" fill="none"/>
<path d="M588.21,208.90H593.81M591.01,206.10V211.70M589.03,206.92L592.99,210.88M589.03,210.88L592.99,206.92" stroke="#7E2F8E" stroke-width="0.65" fill="none"/>
<path d="M594.31,209.70H599.91M597.11,206.90V212.50M595.13,207.72L599.09,211.68M595.13,211.68L599.09,207.72" stroke="#7E2F8E" stroke-width="0.65" fill="none"/>
<path d="M600.42,211.00H606.02M603.22,208.20V213.80M601.24,209.02L605.20,212.98M601.24,212.98L605.20,209.02" stroke="#7E2F8E" stroke-width="0.65" fill="none"/>
<path d="M606.53,212.40H612.13M609.33,209.60V215.20M607.35,210.42L611.31,214.38M607.35,214.38L611.31,210.42" stroke="#7E2F8E" stroke-width="0.65" fill="none"/>
<path d="M612.63,213.90H618.23M615.43,211.10V216.70M613.45,211.92L617.41,215.88M613.45,215.88L617.41,211.92" stroke="#7E2F8E" stroke-width="0.65" fill="none"/>
<path d="M618.74,215.20H624.34M621.54,212.40V218.00M619.56,213.22L623.52,217.18M619.56,217.18L623.52,213.22" stroke="#7E2F8E" stroke-width="0.65" fill="none"/>
<path d="M624.84,216.80H630.44M627.64,214.00V219.60M625.67,214.82L629.62,218.78M625.67,218.78L629.62,214.82" stroke="#7E2F8E" stroke-width="0.65" fill="none"/>
<path d="M630.95,219.50H636.55M633.75,216.70V222.30M631.77,217.52L635.73,221.48M631.77,221.48L635.73,217.52" stroke="#7E2F8E" stroke-width="0.65" fill="none"/>
<path d="M637.06,219.70H642.66M639.86,216.90V222.50M637.88,217.72L641.84,221.68M637.88,221.68L641.84,217.72" stroke="#7E2F8E" stroke-width="0.65" fill="none"/>
<path d="M643.16,220.70H648.76M645.96,217.90V223.50M643.98,218.72L647.94,222.68M643.98,222.68L647.94,218.72" stroke="#7E2F8E" stroke-width="0.65" fill="none"/>
<path d="M649.27,220.10H654.87M652.07,217.30V222.90M650.09,218.12L654.05,222.08M650.09,222.08L654.05,218.12" stroke="#7E2F8E" stroke-width="0.65" fill="none"/>
<path d="M655.38,222.10H660.98M658.18,219.30V224.90M656.20,220.12L660.16,224.08M656.20,224.08L660.16,220.12" stroke="#7E2F8E" stroke-width="0.65" fill="none"/>
<path d="M661.48,225.30H667.08M664.28,222.50V228.10M662.30,223.32L666.26,227.28M662.30,227.28L666.26,223.32" stroke="#7E2F8E" stroke-width="0.65" fill="none"/>
<path d="M667.59,226.30H673.19M670.39,223.50V229.10M668.41,224.32L672.37,228.28M668.41,228.28L672.37,224.32" stroke="#7E2F8E" stroke-width="0.65" fill="none"/>
<path d="M673.69,227.10H679.29M676.49,224.30V229.90M674.51,225.12L678.47,229.08M674.51,229.08L678.47,225.12" stroke="#7E2F8E" stroke-width="0.65" fill="none"/>
<path d="M679.80,228.10H685.40M682.60,225.30V230.90M680.62,226.12L684.58,230.08M680.62,230.08L684.58,226.12" stroke="#7E2F8E" stroke-width="0.65" fill="none"/>
<polyline points="383.40,187.50 389.51,187.00 395.61,189.00 401.72,191.50 407.82,189.10 413.93,193.50 420.04,195.40 426.14,196.30 432.25,197.20 438.36,199.40 444.46,200.60 450.57,201.10 456.67,203.00 462.78,204.00 468.89,205.40 474.99,206.80 481.10,207.80 487.20,209.90 493.31,211.50 499.42,212.70 505.52,214.30 511.63,215.40 517.73,214.30 523.84,217.50 529.95,219.80 536.05,218.50 542.16,220.80 548.27,222.60 554.37,225.00 560.48,226.30 566.58,227.60 572.69,227.50 578.80,230.70 584.90,233.80 591.01,230.30 597.11,236.40 603.22,234.60 609.33,237.20 615.43,238.10 621.54,239.30 627.64,241.80 633.75,244.00 639.86,244.40 645.96,244.90 652.07,245.80 658.18,242.30 664.28,248.30 670.39,250.60 676.49,253.50 682.60,256.00" fill="none" stroke="#77AC30" stroke-width="0.8" clip-path="url(#axclip)"/>
<path d="M380.60,187.50H386.20M383.40,184.70V190.30M381.42,185.52L385.38,189.48M381.42,189.48L385.38,185.52" stroke="#77AC30" stroke-width="0.65" fill="none"/>
<path d="M386.71,187.00H392.31M389.51,184.20V189.80M387.53,185.02L391.49,188.98M387.53,188.98L391.49,185.02" stroke="#77AC30" stroke-width="0.65" fill="none"/>
<path d="M392.81,189.00H398.41M395.61,186.20V191.80M393.63,187.02L397.59,190.98M393.63,190.98L397.59,187.02" stroke="#77AC30" stroke-width="0.65" fill="none"/>
<path d="M398.92,191.50H404.52M401.72,188.70V194.30M399.74,189.52L403.70,193.48M399.74,193.48L403.70,189.52" stroke="#77AC30" stroke-width="0.65" fill="none"/>
<path d="M405.02,189.10H410.62M407.82,186.30V191.90M405.84,187.12L409.80,191.08M405.84,191.08L409.80,187.12" stroke="#77AC30" stroke-width="0.65" fill="none"/>
<path d="M411.13,193.50H416.73M413.93,190.70V196.30M411.95,191.52L415.91,195.48M411.95,195.48L415.91,191.52" stroke="#77AC30" stroke-width="0.65" fill="none"/>
<path d="M417.24,195.40H422.84M420.04,192.60V198.20M418.06,193.42L422.02,197.38M418.06,197.38L422.02,193.42" stroke="#77AC30" stroke-width="0.65" fill="none"/>
<path d="M423.34,196.30H428.94M426.14,193.50V199.10M424.16,194.32L428.12,198.28M424.16,198.28L428.12,194.32" stroke="#77AC30" stroke-width="0.65" fill="none"/>
<path d="M429.45,197.20H435.05M432.25,194.40V200.00M430.27,195.22L434.23,199.18M430.27,199.18L434.23,195.22" stroke="#77AC30" stroke-width="0.65" fill="none"/>
<path d="M435.56,199.40H441.16M438.36,196.60V202.20M436.38,197.42L440.33,201.38M436.38,201.38L440.33,197.42" stroke="#77AC30" stroke-width="0.65" fill="none"/>
<path d="M441.66,200.60H447.26M444.46,197.80V203.40M442.48,198.62L446.44,202.58M442.48,202.58L446.44,198.62" stroke="#77AC30" stroke-width="0.65" fill="none"/>
<path d="M447.77,201.10H453.37M450.57,198.30V203.90M448.59,199.12L452.55,203.08M448.59,203.08L452.55,199.12" stroke="#77AC30" stroke-width="0.65" fill="none"/>
<path d="M453.87,203.00H459.47M456.67,200.20V205.80M454.69,201.02L458.65,204.98M454.69,204.98L458.65,201.02" stroke="#77AC30" stroke-width="0.65" fill="none"/>
<path d="M459.98,204.00H465.58M462.78,201.20V206.80M460.80,202.02L464.76,205.98M460.80,205.98L464.76,202.02" stroke="#77AC30" stroke-width="0.65" fill="none"/>
<path d="M466.09,205.40H471.69M468.89,202.60V208.20M466.91,203.42L470.87,207.38M466.91,207.38L470.87,203.42" stroke="#77AC30" stroke-width="0.65" fill="none"/>
<path d="M472.19,206.80H477.79M474.99,204.00V209.60M473.01,204.82L476.97,208.78M473.01,208.78L476.97,204.82" stroke="#77AC30" stroke-width="0.65" fill="none"/>
<path d="M478.30,207.80H483.90M481.10,205.00V210.60M479.12,205.82L483.08,209.78M479.12,209.78L483.08,205.82" stroke="#77AC30" stroke-width="0.65" fill="none"/>
<path d="M484.40,209.90H490.00M487.20,207.10V212.70M485.22,207.92L489.18,211.88M485.22,211.88L489.18,207.92" stroke="#77AC30" stroke-width="0.65" fill="none"/>
<path d="M490.51,211.50H496.11M493.31,208.70V214.30M491.33,209.52L495.29,213.48M491.33,213.48L495.29,209.52" stroke="#77AC30" stroke-width="0.65" fill="none"/>
<path d="M496.62,212.70H502.22M499.42,209.90V215.50M497.44,210.72L501.40,214.68M497.44,214.68L501.40,210.72" stroke="#77AC30" stroke-width="0.65" fill="none"/>
<path d="M502.72,214.30H508.32M505.52,211.50V217.10M503.54,212.32L507.50,216.28M503.54,216.28L507.50,212.32" stroke="#77AC30" stroke-width="0.65" fill="none"/>
<path d="M508.83,215.40H514.43M511.63,212.60V218.20M509.65,213.42L513.61,217.38M509.65,217.38L513.61,213.42" stroke="#77AC30" stroke-width="0.65" fill="none"/>
<path d="M514.93,214.30H520.53M517.73,211.50V217.10M515.75,212.32L519.71,216.28M515.75,216.28L519.71,212.32" stroke="#77AC30" stroke-width="0.65" fill="none"/>
<path d="M521.04,217.50H526.64M523.84,214.70V220.30M521.86,215.52L525.82,219.48M521.86,219.48L525.82,215.52" stroke="#77AC30" stroke-width="0.65" fill="none"/>
<path d="M527.15,219.80H532.75M529.95,217.00V222.60M527.97,217.82L531.93,221.78M527.97,221.78L531.93,217.82" stroke="#77AC30" stroke-width="0.65" fill="none"/>
<path d="M533.25,218.50H538.85M536.05,215.70V221.30M534.07,216.52L538.03,220.48M534.07,220.48L538.03,216.52" stroke="#77AC30" stroke-width="0.65" fill="none"/>
<path d="M539.36,220.80H544.96M542.16,218.00V223.60M540.18,218.82L544.14,222.78M540.18,222.78L544.14,218.82" stroke="#77AC30" stroke-width="0.65" fill="none"/>
<path d="M545.47,222.60H551.07M548.27,219.80V225.40M546.29,220.62L550.25,224.58M546.29,224.58L550.25,220.62" stroke="#77AC30" stroke-width="0.65" fill="none"/>
<path d="M551.57,225.00H557.17M554.37,222.20V227.80M552.39,223.02L556.35,226.98M552.39,226.98L556.35,223.02" stroke="#77AC30" stroke-width="0.65" fill="none"/>
<path d="M557.68,226.30H563.28M560.48,223.50V229.10M558.50,224.32L562.46,228.28M558.50,228.28L562.46,224.32" stroke="#77AC30" stroke-width="0.65" fill="none"/>
<path d="M563.78,227.60H569.38M566.58,224.80V230.40M564.60,225.62L568.56,229.58M564.60,229.58L568.56,225.62" stroke="#77AC30" stroke-width="0.65" fill="none"/>
<path d="M569.89,227.50H575.49M572.69,224.70V230.30M570.71,225.52L574.67,229.48M570.71,229.48L574.67,225.52" stroke="#77AC30" stroke-width="0.65" fill="none"/>
<path d="M576.00,230.70H581.60M578.80,227.90V233.50M576.82,228.72L580.78,232.68M576.82,232.68L580.78,228.72" stroke="#77AC30" stroke-width="0.65" fill="none"/>
<path d="M582.10,233.80H587.70M584.90,231.00V236.60M582.92,231.82L586.88,235.78M582.92,235.78L586.88,231.82" stroke="#77AC30" stroke-width="0.65" fill="none"/>
<path d="M588.21,230.30H593.81M591.01,227.50V233.10M589.03,228.32L592.99,232.28M589.03,232.28L592.99,228.32" stroke="#77AC30" stroke-width="0.65" fill="none"/>
<path d="M594.31,236.40H599.91M597.11,233.60V239.20M595.13,234.42L599.09,238.38M595.13,238.38L599.09,234.42" stroke="#77AC30" stroke-width="0.65" fill="none"/>
<path d="M600.42,234.60H606.02M603.22,231.80V237.40M601.24,232.62L605.20,236.58M601.24,236.58L605.20,232.62" stroke="#77AC30" stroke-width="0.65" fill="none"/>
<path d="M606.53,237.20H612.13M609.33,234.40V240.00M607.35,235.22L611.31,239.18M607.35,239.18L611.31,235.22" stroke="#77AC30" stroke-width="0.65" fill="none"/>
<path d="M612.63,238.10H618.23M615.43,235.30V240.90M613.45,236.12L617.41,240.08M613.45,240.08L617.41,236.12" stroke="#77AC30" stroke-width="0.65" fill="none"/>
<path d="M618.74,239.30H624.34M621.54,236.50V242.10M619.56,237.32L623.52,241.28M619.56,241.28L623.52,237.32" stroke="#77AC30" stroke-width="0.65" fill="none"/>
<path d="M624.84,241.80H630.44M627.64,239.00V244.60M625.67,239.82L629.62,243.78M625.67,243.78L629.62,239.82" stroke="#77AC30" stroke-width="0.65" fill="none"/>
<path d="M630.95,244.00H636.55M633.75,241.20V246.80M631.77,242.02L635.73,245.98M631.77,245.98L635.73,242.02" stroke="#77AC30" stroke-width="0.65" fill="none"/>
<path d="M637.06,244.40H642.66M639.86,241.60V247.20M637.88,242.42L641.84,246.38M637.88,246.38L641.84,242.42" stroke="#77AC30" stroke-width="0.65" fill="none"/>
<path d="M643.16,244.90H648.76M645.96,242.10V247.70M643.98,242.92L647.94,246.88M643.98,246.88L647.94,242.92" stroke="#77AC30" stroke-width="0.65" fill="none"/>
<path d="M649.27,245.80H654.87M652.07,243.00V248.60M650.09,243.82L654.05,247.78M650.09,247.78L654.05,243.82" stroke="#77AC30" stroke-width="0.65" fill="none"/>
<path d="M655.38,242.30H660.98M658.18,239.50V245.10M656.20,240.32L660.16,244.28M656.20,244.28L660.16,240.32" stroke="#77AC30" stroke-width="0.65" fill="none"/>
<path d="M661.48,248.30H667.08M664.28,245.50V251.10M662.30,246.32L666.26,250.28M662.30,250.28L666.26,246.32" stroke="#77AC30" stroke-width="0.65" fill="none"/>
<path d="M667.59,250.60H673.19M670.39,247.80V253.40M668.41,248.62L672.37,252.58M668.41,252.58L672.37,248.62" stroke="#77AC30" stroke-width="0.65" fill="none"/>
<rect x="383.4" y="11.2" width="299.20000000000005" height="239.3" fill="none" stroke="#262626" stroke-width="1"/>
<line x1="392.25" y1="250.50" x2="392.25" y2="248.90" stroke="#262626" stroke-width="0.8"/>
<line x1="392.25" y1="11.20" x2="392.25" y2="12.80" stroke="#262626" stroke-width="0.8"/>
<line x1="401.01" y1="250.50" x2="401.01" y2="248.90" stroke="#262626" stroke-width="0.8"/>
<line x1="401.01" y1="11.20" x2="401.01" y2="12.80" stroke="#262626" stroke-width="0.8"/>
<line x1="409.68" y1="250.50" x2="409.68" y2="248.90" stroke="#262626" stroke-width="0.8"/>
<line x1="409.68" y1="11.20" x2="409.68" y2="12.80" stroke="#262626" stroke-width="0.8"/>
<line x1="418.28" y1="250.50" x2="418.28" y2="247.70" stroke="#262626" stroke-width="0.8"/>
<line x1="418.28" y1="11.20" x2="418.28" y2="14.00" stroke="#262626" stroke-width="0.8"/>
<line x1="426.79" y1="250.50" x2="426.79" y2="248.90" stroke="#262626" stroke-width="0.8"/>
<line x1="426.79" y1="11.20" x2="426.79" y2="12.80" stroke="#262626" stroke-width="0.8"/>
<line x1="435.21" y1="250.50" x2="435.21" y2="248.90" stroke="#262626" stroke-width="0.8"/>
<line x1="435.21" y1="11.20" x2="435.21" y2="12.80" stroke="#262626" stroke-width="0.8"/>
<line x1="443.56" y1="250.50" x2="443.56" y2="248.90" stroke="#262626" stroke-width="0.8"/>
<line x1="443.56" y1="11.20" x2="443.56" y2="12.80" stroke="#262626" stroke-width="0.8"/>
<line x1="451.84" y1="250.50" x2="451.84" y2="247.70" stroke="#262626" stroke-width="0.8"/>
<line x1="451.84" y1="11.20" x2="451.84" y2="14.00" stroke="#262626" stroke-width="0.8"/>
<line x1="460.03" y1="250.50" x2="460.03" y2="248.90" stroke="#262626" stroke-width="0.8"/>
<line x1="460.03" y1="11.20" x2="460.03" y2="12.80" stroke="#262626" stroke-width="0.8"/>
<line x1="468.15" y1="250.50" x2="468.15" y2="248.90" stroke="#262626" stroke-width="0.8"/>
<line x1="468.15" y1="11.20" x2="468.15" y2="12.80" stroke="#262626" stroke-width="0.8"/>
<line x1="476.20" y1="250.50" x2="476.20" y2="248.90" stroke="#262626" stroke-width="0.8"/>
<line x1="476.20" y1="11.20" x2="476.20" y2="12.80" stroke="#262626" stroke-width="0.8"/>
<line x1="484.17" y1="250.50" x2="484.17" y2="247.70" stroke="#262626" stroke-width="0.8"/>
<line x1="484.17" y1="11.20" x2="484.17" y2="14.00" stroke="#262626" stroke-width="0.8"/>
<line x1="492.08" y1="250.50" x2="492.08" y2="248.90" stroke="#262626" stroke-width="0.8"/>
<line x1="492.08" y1="11.20" x2="492.08" y2="12.80" stroke="#262626" stroke-width="0.8"/>
<line x1="499.91" y1="250.50" x2="499.91" y2="248.90" stroke="#262626" stroke-width="0.8"/>
<line x1="499.91" y1="11.20" x2="499.91" y2="12.80" stroke="#262626" stroke-width="0.8"/>
<line x1="507.68" y1="250.50" x2="507.68" y2="248.90" stroke="#262626" stroke-width="0.8"/>
<line x1="507.68" y1="11.20" x2="507.68" y2="12.80" stroke="#262626" stroke-width="0.8"/>
<line x1="515.38" y1="250.50" x2="515.38" y2="247.70" stroke="#262626" stroke-width="0.8"/>
<line x1="515.38" y1="11.20" x2="515.38" y2="14.00" stroke="#262626" stroke-width="0.8"/>
<line x1="523.01" y1="250.50" x2="523.01" y2="248.90" stroke="#262626" stroke-width="0.8"/>
<line x1="523.01" y1="11.20" x2="523.01" y2="12.80" stroke="#262626" stroke-width="0.8"/>
<line x1="530.58" y1="250.50" x2="530.58" y2="248.90" stroke="#262626" stroke-width="0.8"/>
<line x1="530.58" y1="11.20" x2="530.58" y2="12.80" stroke="#262626" stroke-width="0.8"/>
<line x1="538.08" y1="250.50" x2="538.08" y2="248.90" stroke="#262626" stroke-width="0.8"/>
<line x1="538.08" y1="11.20" x2="538.08" y2="12.80" stroke="#262626" stroke-width="0.8"/>
<line x1="545.53" y1="250.50" x2="545.53" y2="247.70" stroke="#262626" stroke-width="0.8"/>
<line x1="545.53" y1="11.20" x2="545.53" y2="14.00" stroke="#262626" stroke-width="0.8"/>
<line x1="552.90" y1="250.50" x2="552.90" y2="248.90" stroke="#262626" stroke-width="0.8"/>
<line x1="552.90" y1="11.20" x2="552.90" y2="12.80" stroke="#262626" stroke-width="0.8"/>
<line x1="560.22" y1="250.50" x2="560.22" y2="248.90" stroke="#262626" stroke-width="0.8"/>
<line x1="560.22" y1="11.20" x2="560.22" y2="12.80" stroke="#262626" stroke-width="0.8"/>
<line x1="567.48" y1="250.50" x2="567.48" y2="248.90" stroke="#262626" stroke-width="0.8"/>
<line x1="567.48" y1="11.20" x2="567.48" y2="12.80" stroke="#262626" stroke-width="0.8"/>
<line x1="574.68" y1="250.50" x2="574.68" y2="247.70" stroke="#262626" stroke-width="0.8"/>
<line x1="574.68" y1="11.20" x2="574.68" y2="14.00" stroke="#262626" stroke-width="0.8"/>
<line x1="581.83" y1="250.50" x2="581.83" y2="248.90" stroke="#262626" stroke-width="0.8"/>
<line x1="581.83" y1="11.20" x2="581.83" y2="12.80" stroke="#262626" stroke-width="0.8"/>
<line x1="588.91" y1="250.50" x2="588.91" y2="248.90" stroke="#262626" stroke-width="0.8"/>
<line x1="588.91" y1="11.20" x2="588.91" y2="12.80" stroke="#262626" stroke-width="0.8"/>
<line x1="595.94" y1="250.50" x2="595.94" y2="248.90" stroke="#262626" stroke-width="0.8"/>
<line x1="595.94" y1="11.20" x2="595.94" y2="12.80" stroke="#262626" stroke-width="0.8"/>
<line x1="602.91" y1="250.50" x2="602.91" y2="247.70" stroke="#262626" stroke-width="0.8"/>
<line x1="602.91" y1="11.20" x2="602.91" y2="14.00" stroke="#262626" stroke-width="0.8"/>
<line x1="609.83" y1="250.50" x2="609.83" y2="248.90" stroke="#262626" stroke-width="0.8"/>
<line x1="609.83" y1="11.20" x2="609.83" y2="12.80" stroke="#262626" stroke-width="0.8"/>
<line x1="616.70" y1="250.50" x2="616.70" y2="248.90" stroke="#262626" stroke-width="0.8"/>
<line x1="616.70" y1="11.20" x2="616.70" y2="12.80" stroke="#262626" stroke-width="0.8"/>
<line x1="623.52" y1="250.50" x2="623.52" y2="248.90" stroke="#262626" stroke-width="0.8"/>
<line x1="623.52" y1="11.20" x2="623.52" y2="12.80" stroke="#262626" stroke-width="0.8"/>
<line x1="630.28" y1="250.50" x2="630.28" y2="247.70" stroke="#262626" stroke-width="0.8"/>
<line x1="630.28" y1="11.20" x2="630.28" y2="14.00" stroke="#262626" stroke-width="0.8"/>
<line x1="636.99" y1="250.50" x2="636.99" y2="248.90" stroke="#262626" stroke-width="0.8"/>
<line x1="636.99" y1="11.20" x2="636.99" y2="12.80" stroke="#262626" stroke-width="0.8"/>
<line x1="643.65" y1="250.50" x2="643.65" y2="248.90" stroke="#262626" stroke-width="0.8"/>
<line x1="643.65" y1="11.20" x2="643.65" y2="12.80" stroke="#262626" stroke-width="0.8"/>
<line x1="650.26" y1="250.50" x2="650.26" y2="248.90" stroke="#262626" stroke-width="0.8"/>
<line x1="650.26" y1="11.20" x2="650.26" y2="12.80" stroke="#262626" stroke-width="0.8"/>
<line x1="656.82" y1="250.50" x2="656.82" y2="247.70" stroke="#262626" stroke-width="0.8"/>
<line x1="656.82" y1="11.20" x2="656.82" y2="14.00" stroke="#262626" stroke-width="0.8"/>
<line x1="663.34" y1="250.50" x2="663.34" y2="248.90" stroke="#262626" stroke-width="0.8"/>
<line x1="663.34" y1="11.20" x2="663.34" y2="12.80" stroke="#262626" stroke-width="0.8"/>
<line x1="669.81" y1="250.50" x2="669.81" y2="248.90" stroke="#262626" stroke-width="0.8"/>
<line x1="669.81" y1="11.20" x2="669.81" y2="12.80" stroke="#262626" stroke-width="0.8"/>
<line x1="676.23" y1="250.50" x2="676.23" y2="248.90" stroke="#262626" stroke-width="0.8"/>
<line x1="676.23" y1="11.20" x2="676.23" y2="12.80" stroke="#262626" stroke-width="0.8"/>
<line x1="383.40" y1="250.50" x2="383.40" y2="247.70" stroke="#262626" stroke-width="0.8"/>
<line x1="383.40" y1="11.20" x2="383.40" y2="14.00" stroke="#262626" stroke-width="0.8"/>
<line x1="418.28" y1="250.50" x2="418.28" y2="247.70" stroke="#262626" stroke-width="0.8"/>
<line x1="418.28" y1="11.20" x2="418.28" y2="14.00" stroke="#262626" stroke-width="0.8"/>
<line x1="451.84" y1="250.50" x2="451.84" y2="247.70" stroke="#262626" stroke-width="0.8"/>
<line x1="451.84" y1="11.20" x2="451.84" y2="14.00" stroke="#262626" stroke-width="0.8"/>
<line x1="484.17" y1="250.50" x2="484.17" y2="247.70" stroke="#262626" stroke-width="0.8"/>
<line x1="484.17" y1="11.20" x2="484.17" y2="14.00" stroke="#262626" stroke-width="0.8"/>
<line x1="515.38" y1="250.50" x2="515.38" y2="247.70" stroke="#262626" stroke-width="0.8"/>
<line x1="515.38" y1="11.20" x2="515.38" y2="14.00" stroke="#262626" stroke-width="0.8"/>
<line x1="545.53" y1="250.50" x2="545.53" y2="247.70" stroke="#262626" stroke-width="0.8"/>
<line x1="545.53" y1="11.20" x2="545.53" y2="14.00" stroke="#262626" stroke-width="0.8"/>
<line x1="574.68" y1="250.50" x2="574.68" y2="247.70" stroke="#262626" stroke-width="0.8"/>
<line x1="574.68" y1="11.20" x2="574.68" y2="14.00" stroke="#262626" stroke-width="0.8"/>
<line x1="602.91" y1="250.50" x2="602.91" y2="247.70" stroke="#262626" stroke-width="0.8"/>
<line x1="602.91" y1="11.20" x2="602.91" y2="14.00" stroke="#262626" stroke-width="0.8"/>
<line x1="630.28" y1="250.50" x2="630.28" y2="247.70" stroke="#262626" stroke-width="0.8"/>
<line x1="630.28" y1="11.20" x2="630.28" y2="14.00" stroke="#262626" stroke-width="0.8"/>
<line x1="656.82" y1="250.50" x2="656.82" y2="247.70" stroke="#262626" stroke-width="0.8"/>
<line x1="656.82" y1="11.20" x2="656.82" y2="14.00" stroke="#262626" stroke-width="0.8"/>
<line x1="682.60" y1="250.50" x2="682.60" y2="247.70" stroke="#262626" stroke-width="0.8"/>
<line x1="682.60" y1="11.20" x2="682.60" y2="14.00" stroke="#262626" stroke-width="0.8"/>
<line x1="383.40" y1="241.65" x2="385.00" y2="241.65" stroke="#262626" stroke-width="0.8"/>
<line x1="682.60" y1="241.65" x2="681.00" y2="241.65" stroke="#262626" stroke-width="0.8"/>
<line x1="383.40" y1="233.05" x2="385.00" y2="233.05" stroke="#262626" stroke-width="0.8"/>
<line x1="682.60" y1="233.05" x2="681.00" y2="233.05" stroke="#262626" stroke-width="0.8"/>
<line x1="383.40" y1="224.68" x2="385.00" y2="224.68" stroke="#262626" stroke-width="0.8"/>
<line x1="682.60" y1="224.68" x2="681.00" y2="224.68" stroke="#262626" stroke-width="0.8"/>
<line x1="383.40" y1="216.52" x2="385.00" y2="216.52" stroke="#262626" stroke-width="0.8"/>
<line x1="682.60" y1="216.52" x2="681.00" y2="216.52" stroke="#262626" stroke-width="0.8"/>
<line x1="383.40" y1="208.57" x2="386.20" y2="208.57" stroke="#262626" stroke-width="0.8"/>
<line x1="682.60" y1="208.57" x2="679.80" y2="208.57" stroke="#262626" stroke-width="0.8"/>
<line x1="383.40" y1="200.82" x2="385.00" y2="200.82" stroke="#262626" stroke-width="0.8"/>
<line x1="682.60" y1="200.82" x2="681.00" y2="200.82" stroke="#262626" stroke-width="0.8"/>
<line x1="383.40" y1="193.25" x2="385.00" y2="193.25" stroke="#262626" stroke-width="0.8"/>
<line x1="682.60" y1="193.25" x2="681.00" y2="193.25" stroke="#262626" stroke-width="0.8"/>
<line x1="383.40" y1="185.87" x2="385.00" y2="185.87" stroke="#262626" stroke-width="0.8"/>
<line x1="682.60" y1="185.87" x2="681.00" y2="185.87" stroke="#262626" stroke-width="0.8"/>
<line x1="383.40" y1="178.65" x2="385.00" y2="178.65" stroke="#262626" stroke-width="0.8"/>
<line x1="682.60" y1="178.65" x2="681.00" y2="178.65" stroke="#262626" stroke-width="0.8"/>
<line x1="383.40" y1="171.59" x2="386.20" y2="171.59" stroke="#262626" stroke-width="0.8"/>
<line x1="682.60" y1="171.59" x2="679.80" y2="171.59" stroke="#262626" stroke-width="0.8"/>
<line x1="383.40" y1="164.69" x2="385.00" y2="164.69" stroke="#262626" stroke-width="0.8"/>
<line x1="682.60" y1="164.69" x2="681.00" y2="164.69" stroke="#262626" stroke-width="0.8"/>
<line x1="383.40" y1="157.94" x2="385.00" y2="157.94" stroke="#262626" stroke-width="0.8"/>
<line x1="682.60" y1="157.94" x2="681.00" y2="157.94" stroke="#262626" stroke-width="0.8"/>
<line x1="383.40" y1="151.33" x2="385.00" y2="151.33" stroke="#262626" stroke-width="0.8"/>
<line x1="682.60" y1="151.33" x2="681.00" y2="151.33" stroke="#262626" stroke-width="0.8"/>
<line x1="383.40" y1="144.85" x2="385.00" y2="144.85" stroke="#262626" stroke-width="0.8"/>
<line x1="682.60" y1="144.85" x2="681.00" y2="144.85" stroke="#262626" stroke-width="0.8"/>
<line x1="383.40" y1="138.51" x2="386.20" y2="138.51" stroke="#262626" stroke-width="0.8"/>
<line x1="682.60" y1="138.51" x2="679.80" y2="138.51" stroke="#262626" stroke-width="0.8"/>
<line x1="383.40" y1="132.29" x2="385.00" y2="132.29" stroke="#262626" stroke-width="0.8"/>
<line x1="682.60" y1="132.29" x2="681.00" y2="132.29" stroke="#262626" stroke-width="0.8"/>
<line x1="383.40" y1="126.19" x2="385.00" y2="126.19" stroke="#262626" stroke-width="0.8"/>
<line x1="682.60" y1="126.19" x2="681.00" y2="126.19" stroke="#262626" stroke-width="0.8"/>
<line x1="383.40" y1="120.21" x2="385.00" y2="120.21" stroke="#262626" stroke-width="0.8"/>
<line x1="682.60" y1="120.21" x2="681.00" y2="120.21" stroke="#262626" stroke-width="0.8"/>
<line x1="383.40" y1="114.35" x2="385.00" y2="114.35" stroke="#262626" stroke-width="0.8"/>
<line x1="682.60" y1="114.35" x2="681.00" y2="114.35" stroke="#262626" stroke-width="0.8"/>
<line x1="383.40" y1="108.58" x2="386.20" y2="108.58" stroke="#262626" stroke-width="0.8"/>
<line x1="682.60" y1="108.58" x2="679.80" y2="108.58" stroke="#262626" stroke-width="0.8"/>
<line x1="383.40" y1="102.93" x2="385.00" y2="102.93" stroke="#262626" stroke-width="0.8"/>
<line x1="682.60" y1="102.93" x2="681.00" y2="102.93" stroke="#262626" stroke-width="0.8"/>
<line x1="383.40" y1="97.37" x2="385.00" y2="97.37" stroke="#262626" stroke-width="0.8"/>
<line x1="682.60" y1="97.37" x2="681.00" y2="97.37" stroke="#262626" stroke-width="0.8"/>
<line x1="383.40" y1="91.91" x2="385.00" y2="91.91" stroke="#262626" stroke-width="0.8"/>
<line x1="682.60" y1="91.91" x2="681.00" y2="91.91" stroke="#262626" stroke-width="0.8"/>
<line x1="383.40" y1="86.54" x2="385.00" y2="86.54" stroke="#262626" stroke-width="0.8"/>
<line x1="682.60" y1="86.54" x2="681.00" y2="86.54" stroke="#262626" stroke-width="0.8"/>
<line x1="383.40" y1="81.26" x2="386.20" y2="81.26" stroke="#262626" stroke-width="0.8"/>
<line x1="682.60" y1="81.26" x2="679.80" y2="81.26" stroke="#262626" stroke-width="0.8"/>
<line x1="383.40" y1="76.07" x2="385.00" y2="76.07" stroke="#262626" stroke-width="0.8"/>
<line x1="682.60" y1="76.07" x2="681.00" y2="76.07" stroke="#262626" stroke-width="0.8"/>
<line x1="383.40" y1="70.97" x2="385.00" y2="70.97" stroke="#262626" stroke-width="0.8"/>
<line x1="682.60" y1="70.97" x2="681.00" y2="70.97" stroke="#262626" stroke-width="0.8"/>
<line x1="383.40" y1="65.94" x2="385.00" y2="65.94" stroke="#262626" stroke-width="0.8"/>
<line x1="682.60" y1="65.94" x2="681.00" y2="65.94" stroke="#262626" stroke-width="0.8"/>
<line x1="383.40" y1="61.00" x2="385.00" y2="61.00" stroke="#262626" stroke-width="0.8"/>
<line x1="682.60" y1="61.00" x2="681.00" y2="61.00" stroke="#262626" stroke-width="0.8"/>
<line x1="383.40" y1="56.13" x2="386.20" y2="56.13" stroke="#262626" stroke-width="0.8"/>
<line x1="682.60" y1="56.13" x2="679.80" y2="56.13" stroke="#262626" stroke-width="0.8"/>
<line x1="383.40" y1="51.34" x2="385.00" y2="51.34" stroke="#262626" stroke-width="0.8"/>
<line x1="682.60" y1="51.34" x2="681.00" y2="51.34" stroke="#262626" stroke-width="0.8"/>
<line x1="383.40" y1="46.62" x2="385.00" y2="46.62" stroke="#262626" stroke-width="0.8"/>
<line x1="682.60" y1="46.62" x2="681.00" y2="46.62" stroke="#262626" stroke-width="0.8"/>
<line x1="383.40" y1="41.96" x2="385.00" y2="41.96" stroke="#262626" stroke-width="0.8"/>
<line x1="682.60" y1="41.96" x2="681.00" y2="41.96" stroke="#262626" stroke-width="0.8"/>
<line x1="383.40" y1="37.38" x2="385.00" y2="37.38" stroke="#262626" stroke-width="0.8"/>
<line x1="682.60" y1="37.38" x2="681.00" y2="37.38" stroke="#262626" stroke-width="0.8"/>
<line x1="383.40" y1="32.86" x2="386.20" y2="32.86" stroke="#262626" stroke-width="0.8"/>
<line x1="682.60" y1="32.86" x2="679.80" y2="32.86" stroke="#262626" stroke-width="0.8"/>
<line x1="383.40" y1="28.41" x2="385.00" y2="28.41" stroke="#262626" stroke-width="0.8"/>
<line x1="682.60" y1="28.41" x2="681.00" y2="28.41" stroke="#262626" stroke-width="0.8"/>
<line x1="383.40" y1="24.02" x2="385.00" y2="24.02" stroke="#262626" stroke-width="0.8"/>
<line x1="682.60" y1="24.02" x2="681.00" y2="24.02" stroke="#262626" stroke-width="0.8"/>
<line x1="383.40" y1="19.69" x2="385.00" y2="19.69" stroke="#262626" stroke-width="0.8"/>
<line x1="682.60" y1="19.69" x2="681.00" y2="19.69" stroke="#262626" stroke-width="0.8"/>
<line x1="383.40" y1="15.41" x2="385.00" y2="15.41" stroke="#262626" stroke-width="0.8"/>
<line x1="682.60" y1="15.41" x2="681.00" y2="15.41" stroke="#262626" stroke-width="0.8"/>
<line x1="383.40" y1="250.50" x2="386.20" y2="250.50" stroke="#262626" stroke-width="0.8"/>
<line x1="682.60" y1="250.50" x2="679.80" y2="250.50" stroke="#262626" stroke-width="0.8"/>
<line x1="383.40" y1="208.57" x2="386.20" y2="208.57" stroke="#262626" stroke-width="0.8"/>
<line x1="682.60" y1="208.57" x2="679.80" y2="208.57" stroke="#262626" stroke-width="0.8"/>
<line x1="383.40" y1="171.59" x2="386.20" y2="171.59" stroke="#262626" stroke-width="0.8"/>
<line x1="682.60" y1="171.59" x2="679.80" y2="171.59" stroke="#262626" stroke-width="0.8"/>
<line x1="383.40" y1="138.51" x2="386.20" y2="138.51" stroke="#262626" stroke-width="0.8"/>
<line x1="682.60" y1="138.51" x2="679.80" y2="138.51" stroke="#262626" stroke-width="0.8"/>
<line x1="383.40" y1="108.58" x2="386.20" y2="108.58" stroke="#262626" stroke-width="0.8"/>
<line x1="682.60" y1="108.58" x2="679.80" y2="108.58" stroke="#262626" stroke-width="0.8"/>
<line x1="383.40" y1="81.26" x2="386.20" y2="81.26" stroke="#262626" stroke-width="0.8"/>
<line x1="682.60" y1="81.26" x2="679.80" y2="81.26" stroke="#262626" stroke-width="0.8"/>
<line x1="383.40" y1="56.13" x2="386.20" y2="56.13" stroke="#262626" stroke-width="0.8"/>
<line x1="682.60" y1="56.13" x2="679.80" y2="56.13" stroke="#262626" stroke-width="0.8"/>
<line x1="383.40" y1="32.86" x2="386.20" y2="32.86" stroke="#262626" stroke-width="0.8"/>
<line x1="682.60" y1="32.86" x2="679.80" y2="32.86" stroke="#262626" stroke-width="0.8"/>
<line x1="383.40" y1="11.20" x2="386.20" y2="11.20" stroke="#262626" stroke-width="0.8"/>
<line x1="682.60" y1="11.20" x2="679.80" y2="11.20" stroke="#262626" stroke-width="0.8"/>
<text x="383.40" y="262.90" style="font-family:'Liberation Sans',sans-serif;font-size:9.2px" text-anchor="middle" fill="#262626" stroke="#262626" stroke-width="0.15">5</text>
<text x="418.28" y="262.90" style="font-family:'Liberation Sans',sans-serif;font-size:9.2px" text-anchor="middle" fill="#262626" stroke="#262626" stroke-width="0.15">5.2</text>
<text x="451.84" y="262.90" style="font-family:'Liberation Sans',sans-serif;font-size:9.2px" text-anchor="middle" fill="#262626" stroke="#262626" stroke-width="0.15">5.4</text>
<text x="484.17" y="262.90" style="font-family:'Liberation Sans',sans-serif;font-size:9.2px" text-anchor="middle" fill="#262626" stroke="#262626" stroke-width="0.15">5.6</text>
<text x="515.38" y="262.90" style="font-family:'Liberation Sans',sans-serif;font-size:9.2px" text-anchor="middle" fill="#262626" stroke="#262626" stroke-width="0.15">5.8</text>
<text x="545.53" y="262.90" style="font-family:'Liberation Sans',sans-serif;font-size:9.2px" text-anchor="middle" fill="#262626" stroke="#262626" stroke-width="0.15">6</text>
<text x="574.68" y="262.90" style="font-family:'Liberation Sans',sans-serif;font-size:9.2px" text-anchor="middle" fill="#262626" stroke="#262626" stroke-width="0.15">6.2</text>
<text x="602.91" y="262.90" style="font-family:'Liberation Sans',sans-serif;font-size:9.2px" text-anchor="middle" fill="#262626" stroke="#262626" stroke-width="0.15">6.4</text>
<text x="630.28" y="262.90" style="font-family:'Liberation Sans',sans-serif;font-size:9.2px" text-anchor="middle" fill="#262626" stroke="#262626" stroke-width="0.15">6.6</text>
<text x="656.82" y="262.90" style="font-family:'Liberation Sans',sans-serif;font-size:9.2px" text-anchor="middle" fill="#262626" stroke="#262626" stroke-width="0.15">6.8</text>
<text x="682.60" y="262.90" style="font-family:'Liberation Sans',sans-serif;font-size:9.2px" text-anchor="middle" fill="#262626" stroke="#262626" stroke-width="0.15">7</text>
<text x="380.00" y="253.90" style="font-family:'Liberation Sans',sans-serif;font-size:9.2px" text-anchor="end" fill="#262626" stroke="#262626" stroke-width="0.15">0.7</text>
<text x="380.00" y="211.97" style="font-family:'Liberation Sans',sans-serif;font-size:9.2px" text-anchor="end" fill="#262626" stroke="#262626" stroke-width="0.15">0.8</text>
<text x="380.00" y="174.99" style="font-family:'Liberation Sans',sans-serif;font-size:9.2px" text-anchor="end" fill="#262626" stroke="#262626" stroke-width="0.15">0.9</text>
<text x="380.00" y="141.91" style="font-family:'Liberation Sans',sans-serif;font-size:9.2px" text-anchor="end" fill="#262626" stroke="#262626" stroke-width="0.15">1</text>
<text x="380.00" y="111.98" style="font-family:'Liberation Sans',sans-serif;font-size:9.2px" text-anchor="end" fill="#262626" stroke="#262626" stroke-width="0.15">1.1</text>
<text x="380.00" y="84.66" style="font-family:'Liberation Sans',sans-serif;font-size:9.2px" text-anchor="end" fill="#262626" stroke="#262626" stroke-width="0.15">1.2</text>
<text x="380.00" y="59.53" style="font-family:'Liberation Sans',sans-serif;font-size:9.2px" text-anchor="end" fill="#262626" stroke="#262626" stroke-width="0.15">1.3</text>
<text x="380.00" y="36.26" style="font-family:'Liberation Sans',sans-serif;font-size:9.2px" text-anchor="end" fill="#262626" stroke="#262626" stroke-width="0.15">1.4</text>
<text x="380.00" y="14.60" style="font-family:'Liberation Sans',sans-serif;font-size:9.2px" text-anchor="end" fill="#262626" stroke="#262626" stroke-width="0.15">1.5</text>
<text x="384.4" y="9.4" style="font-family:'Liberation Sans',sans-serif;font-size:9.9px" fill="#262626">&#215;10<tspan dx="-0.6" dy="-4.4" style="font-size:7.6px">-7</tspan></text>
<text x="659.4" y="277.8" style="font-family:'Liberation Sans',sans-serif;font-size:9.9px" fill="#262626">&#215;10<tspan dx="-0.6" dy="-4.4" style="font-size:7.6px">-8</tspan></text>
<text x="518.0" y="277.4" style="font-family:'Liberation Serif',serif;font-size:12px" fill="#000">I<tspan dy="5.5" style="font-size:10.5px">2</tspan><tspan dy="-5.5"> (A)</tspan></text>
<text transform="rotate(-90)" x="-151.60" y="356.60" style="font-family:'Liberation Serif',serif;font-size:10px;font-style:italic" fill="#000">I</text>
<text transform="rotate(-90)" x="-147.00" y="357.80" style="font-family:'Liberation Serif',serif;font-size:7.2px" fill="#000">2</text>
<line x1="363.2" y1="142.1" x2="352.0" y2="137.7" stroke="#000" stroke-width="0.9"/>
<text transform="rotate(-90)" x="-136.90" y="363.20" style="font-family:'Liberation Serif',serif;font-size:10px;font-style:italic" fill="#000">I</text>
<text transform="rotate(-90)" x="-132.40" y="364.60" style="font-family:'Liberation Serif',serif;font-size:7.2px" fill="#000">1</text>
<text transform="rotate(-90)" x="-127.6" y="361.3" style="font-family:'Liberation Serif',serif;font-size:13.4px" fill="#000">(<tspan style="font-style:italic">A</tspan>)</text>
<rect x="562.5" y="16.7" width="112.0" height="100.39999999999999" fill="#fff" stroke="#333" stroke-width="1"/>
<line x1="565.4" y1="27.45" x2="591.5" y2="27.45" stroke="#0072BD" stroke-width="0.7"/>
<path d="M575.60,27.45H581.20M578.40,24.65V30.25M576.42,25.47L580.38,29.43M576.42,29.43L580.38,25.47" stroke="#0072BD" stroke-width="0.65" fill="none"/>
<text x="593.6" y="29.85" style="font-family:'Liberation Serif',serif;font-size:12px" fill="#000">I<tspan dy="6" style="font-size:10.5px">1</tspan><tspan x="605.6" dy="-6">= 3e-08</tspan></text>
<line x1="565.4" y1="47.30" x2="591.5" y2="47.30" stroke="#D95319" stroke-width="0.7"/>
<path d="M575.60,47.30H581.20M578.40,44.50V50.10M576.42,45.32L580.38,49.28M576.42,49.28L580.38,45.32" stroke="#D95319" stroke-width="0.65" fill="none"/>
<text x="593.6" y="49.70" style="font-family:'Liberation Serif',serif;font-size:12px" fill="#000">I<tspan dy="6" style="font-size:10.5px">1</tspan><tspan x="605.6" dy="-6">= 2.7108e-08</tspan></text>
<line x1="565.4" y1="67.15" x2="591.5" y2="67.15" stroke="#EDB120" stroke-width="0.7"/>
<path d="M575.60,67.15H581.20M578.40,64.35V69.95M576.42,65.17L580.38,69.13M576.42,69.13L580.38,65.17" stroke="#EDB120" stroke-width="0.65" fill="none"/>
<text x="593.6" y="69.55" style="font-family:'Liberation Serif',serif;font-size:12px" fill="#000">I<tspan dy="6" style="font-size:10.5px">1</tspan><tspan x="605.6" dy="-6">= 2.4495e-08</tspan></text>
<line x1="565.4" y1="87.00" x2="591.5" y2="87.00" stroke="#7E2F8E" stroke-width="0.7"/>
<path d="M575.60,87.00H581.20M578.40,84.20V89.80M576.42,85.02L580.38,88.98M576.42,88.98L580.38,85.02" stroke="#7E2F8E" stroke-width="0.65" fill="none"/>
<text x="593.6" y="89.40" style="font-family:'Liberation Serif',serif;font-size:12px" fill="#000">I<tspan dy="6" style="font-size:10.5px">1</tspan><tspan x="605.6" dy="-6">= 2.2134e-08</tspan></text>
<line x1="565.4" y1="106.85" x2="591.5" y2="106.85" stroke="#77AC30" stroke-width="0.7"/>
<path d="M575.60,106.85H581.20M578.40,104.05V109.65M576.42,104.87L580.38,108.83M576.42,108.83L580.38,104.87" stroke="#77AC30" stroke-width="0.65" fill="none"/>
<text x="593.6" y="109.25" style="font-family:'Liberation Serif',serif;font-size:12px" fill="#000">I<tspan dy="6" style="font-size:10.5px">1</tspan><tspan x="605.6" dy="-6">= 2e-08</tspan></text>
</svg>
</body></html>
